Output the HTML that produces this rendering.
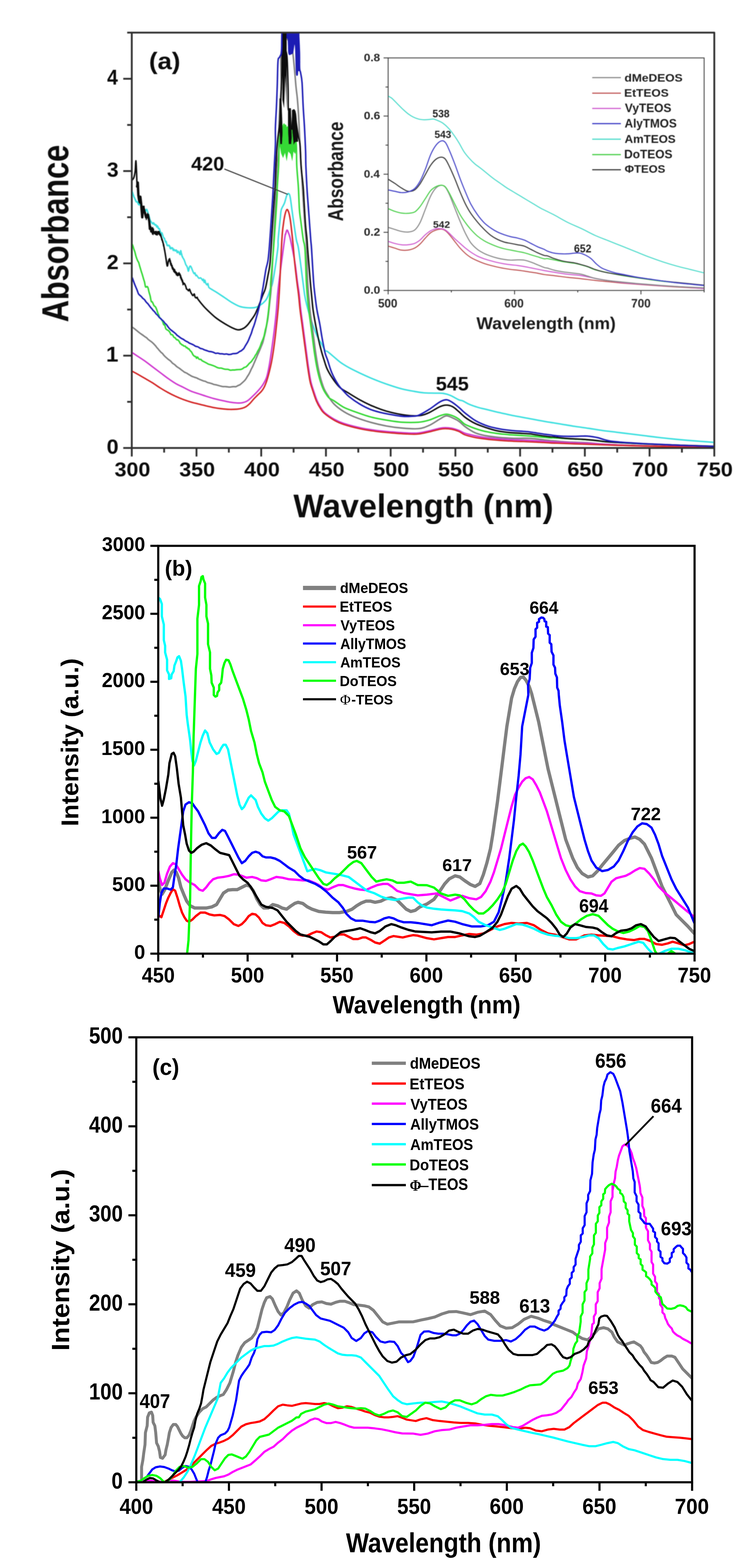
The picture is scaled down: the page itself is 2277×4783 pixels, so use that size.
<!DOCTYPE html>
<html><head><meta charset="utf-8"><style>html,body{margin:0;padding:0;background:#fff;}svg{display:block;}</style></head>
<body><svg width="2277" height="4783" viewBox="0 0 2277 4783">
<rect width="2277" height="4783" fill="#fff"/>
<clipPath id="cb"><rect x="483" y="1665" width="1637" height="1244"/></clipPath>
<g clip-path="url(#cb)">
<polyline points="483.5,2689.2 489.1,2713.7 494.7,2727.7 503.1,2713.7 513.7,2685.6 524.2,2661.1 531.2,2654.1 538.2,2661.1 545.2,2678.6 552.2,2706.7 560.7,2727.7 569.8,2748.8 580.3,2762.8 594.3,2769.8 611.9,2769.8 629.4,2769.8 646.9,2766.3 661.0,2759.3 671.5,2741.8 682.0,2724.2 696.0,2715.1 710.1,2713.7 724.1,2713.7 738.1,2706.7 752.2,2699.7 762.7,2703.2 773.2,2717.2 783.7,2741.8 794.2,2759.3 804.8,2769.8 818.8,2769.8 832.8,2759.3 846.9,2762.8 860.9,2769.8 874.9,2773.3 888.9,2762.8 899.5,2755.8 910.0,2752.3 924.0,2755.8 938.0,2766.3 952.1,2773.3 973.1,2780.3 994.2,2782.4 1015.2,2783.8 1036.2,2783.8 1057.3,2780.3 1074.8,2773.3 1088.9,2762.8 1102.9,2754.4 1116.9,2748.8 1130.9,2748.8 1145.0,2752.3 1162.5,2748.8 1176.5,2741.8 1194.1,2738.3 1211.6,2745.3 1225.6,2759.3 1239.7,2773.3 1253.7,2780.3 1267.7,2776.8 1281.8,2766.3 1303.1,2757.7 1324.6,2743.4 1342.5,2718.3 1356.9,2696.7 1371.3,2680.9 1389.2,2671.6 1403.6,2675.2 1417.9,2686.0 1435.9,2698.2 1450.2,2703.9 1464.6,2695.3 1475.3,2668.0 1486.1,2632.1 1496.9,2589.1 1504.0,2546.0 1511.2,2495.8 1518.4,2445.5 1525.6,2388.1 1532.8,2330.7 1539.9,2273.2 1547.1,2215.8 1554.3,2172.8 1561.5,2129.7 1570.1,2101.0 1579.4,2079.4 1588.7,2066.5 1597.4,2065.1 1606.0,2075.9 1615.3,2093.8 1622.5,2115.3 1629.7,2144.0 1636.8,2172.8 1644.0,2201.5 1651.2,2237.4 1658.4,2273.2 1665.5,2309.1 1672.7,2345.0 1683.5,2388.1 1694.3,2431.2 1705.0,2474.2 1715.8,2517.3 1726.6,2560.4 1737.3,2589.1 1748.1,2617.8 1762.4,2646.5 1776.8,2664.4 1794.7,2675.2 1809.1,2671.6 1823.5,2657.3 1837.8,2639.3 1855.8,2617.8 1873.7,2596.2 1888.1,2578.3 1906.0,2563.9 1923.9,2556.8 1938.3,2553.2 1952.7,2560.4 1967.0,2574.7 1977.8,2596.2 1988.5,2617.8 1999.3,2646.5 2010.1,2675.2 2020.8,2703.9 2035.2,2732.6 2049.6,2761.3 2063.9,2790.0 2081.9,2808.0 2099.8,2825.9 2119.2,2847.5" fill="none" stroke="#808080" stroke-width="10" stroke-linejoin="round" stroke-linecap="round" />
<polyline points="483.5,2790.9 492.6,2797.9 499.6,2776.8 506.6,2755.8 513.7,2738.3 520.7,2724.2 527.7,2712.3 534.7,2717.2 541.7,2738.3 548.7,2762.8 555.7,2783.8 562.8,2797.9 569.8,2808.4 576.8,2811.9 587.3,2804.9 597.8,2794.4 611.9,2783.8 625.9,2783.8 639.9,2789.5 653.9,2792.3 671.5,2790.9 685.5,2794.4 699.5,2804.9 713.6,2818.9 727.6,2824.5 738.1,2818.9 748.6,2808.4 759.2,2794.4 769.7,2787.4 780.2,2789.5 790.7,2799.3 801.3,2815.4 811.8,2822.4 825.8,2824.5 839.8,2818.9 853.9,2811.9 867.9,2815.4 881.9,2825.9 896.0,2840.0 910.0,2850.5 924.0,2854.0 938.0,2854.0 952.1,2847.0 966.1,2841.4 980.1,2843.5 994.2,2852.6 1008.2,2859.6 1022.2,2857.5 1036.2,2850.5 1050.3,2850.5 1064.3,2857.5 1078.3,2864.5 1092.4,2864.5 1106.4,2859.6 1116.9,2859.6 1130.9,2866.6 1145.0,2875.0 1159.0,2878.5 1173.0,2869.4 1187.1,2859.6 1201.1,2855.4 1215.1,2857.5 1229.2,2859.6 1246.7,2855.4 1260.7,2852.6 1274.7,2854.0 1303.1,2861.8 1324.6,2865.4 1346.1,2861.8 1367.7,2858.2 1389.2,2858.2 1410.7,2853.2 1432.3,2848.9 1453.8,2851.1 1475.3,2847.5 1496.9,2836.7 1518.4,2825.9 1539.9,2818.8 1561.5,2815.2 1583.0,2817.3 1608.1,2815.2 1629.7,2822.3 1651.2,2836.7 1672.7,2847.5 1694.3,2851.1 1715.8,2858.2 1737.3,2865.4 1758.9,2865.4 1784.0,2853.2 1805.5,2851.1 1827.0,2853.2 1848.6,2854.6 1870.1,2856.1 1891.6,2861.8 1913.2,2865.4 1934.7,2867.6 1952.7,2864.0 1967.0,2864.0 1985.0,2870.4 2002.9,2879.8 2020.8,2881.9 2038.8,2877.6 2053.1,2872.6 2071.1,2877.6 2089.0,2883.4 2103.4,2879.8 2119.2,2872.6" fill="none" stroke="#ff0000" stroke-width="7" stroke-linejoin="round" stroke-linecap="round" />
<polyline points="483.5,2657.6 487.7,2678.6 494.7,2699.7 501.7,2692.7 510.1,2664.6 518.6,2643.6 527.7,2633.0 536.8,2636.5 545.2,2650.6 555.7,2668.1 566.3,2682.1 580.3,2692.7 594.3,2699.7 608.4,2713.7 618.9,2717.2 629.4,2706.7 639.9,2692.7 650.4,2682.1 664.5,2677.2 682.0,2675.1 699.5,2671.6 713.6,2666.7 727.6,2668.1 741.6,2673.0 752.2,2677.2 769.7,2675.1 783.7,2678.6 797.7,2685.6 811.8,2687.0 825.8,2682.1 843.3,2675.1 860.9,2677.2 881.9,2682.1 903.0,2683.5 924.0,2685.6 941.5,2685.6 959.1,2692.7 973.1,2699.7 987.1,2710.2 1001.2,2713.7 1015.2,2706.7 1032.7,2699.7 1046.8,2699.7 1064.3,2705.3 1081.8,2710.2 1099.4,2713.7 1116.9,2715.1 1134.5,2706.7 1152.0,2699.7 1169.5,2696.2 1183.6,2696.2 1197.6,2705.3 1211.6,2717.2 1232.7,2724.2 1253.7,2727.7 1274.7,2731.2 1303.1,2729.0 1331.8,2725.4 1353.3,2736.2 1374.8,2747.0 1392.8,2739.8 1410.7,2732.6 1432.3,2739.8 1453.8,2743.4 1468.2,2736.2 1482.5,2718.3 1496.9,2689.6 1507.6,2660.8 1518.4,2625.0 1529.2,2589.1 1539.9,2546.0 1550.7,2502.9 1561.5,2459.9 1572.2,2424.0 1583.0,2402.4 1593.8,2384.5 1604.5,2373.7 1615.3,2370.1 1626.1,2377.3 1636.8,2395.3 1647.6,2416.8 1658.4,2445.5 1669.1,2474.2 1679.9,2510.1 1690.7,2546.0 1701.4,2581.9 1712.2,2617.8 1726.6,2653.7 1740.9,2682.4 1755.3,2703.9 1769.6,2718.3 1787.6,2724.0 1805.5,2725.4 1819.9,2731.2 1834.2,2732.6 1845.0,2725.4 1855.8,2707.5 1866.5,2689.6 1880.9,2678.8 1895.2,2675.2 1909.6,2671.6 1923.9,2664.4 1938.3,2655.1 1952.7,2647.9 1967.0,2650.1 1981.4,2664.4 1995.7,2682.4 2010.1,2703.9 2028.0,2721.9 2049.6,2739.8 2071.1,2757.7 2092.6,2775.7 2119.2,2797.2" fill="none" stroke="#ff00ff" stroke-width="7" stroke-linejoin="round" stroke-linecap="round" />
<polyline points="483.5,2797.9 487.7,2755.8 492.6,2724.2 499.6,2710.2 510.1,2710.2 520.7,2713.7 527.7,2706.7 532.6,2671.6 538.2,2636.5 543.8,2587.4 548.7,2552.4 553.6,2517.3 559.2,2475.2 566.3,2454.2 576.8,2447.1 587.3,2450.7 594.3,2461.2 604.8,2475.2 615.4,2496.2 625.9,2517.3 636.4,2541.8 646.9,2555.9 657.5,2555.9 668.0,2541.8 678.5,2531.3 686.9,2534.8 696.0,2552.4 706.6,2573.4 717.1,2594.5 727.6,2615.5 738.1,2633.0 748.6,2626.0 759.2,2612.0 769.7,2601.5 780.2,2598.0 790.7,2601.5 801.3,2612.0 811.8,2615.5 825.8,2615.5 839.8,2619.0 853.9,2626.0 867.9,2636.5 881.9,2647.1 899.5,2657.6 913.5,2671.6 927.5,2682.1 945.1,2689.2 962.6,2696.2 980.1,2706.7 997.7,2720.7 1015.2,2738.3 1032.7,2752.3 1046.8,2769.8 1057.3,2787.4 1071.3,2801.4 1085.4,2808.4 1106.4,2808.4 1127.4,2811.9 1145.0,2813.3 1159.0,2808.4 1173.0,2801.4 1187.1,2797.9 1201.1,2801.4 1215.1,2808.4 1232.7,2813.3 1253.7,2813.3 1274.7,2815.4 1317.4,2822.3 1339.0,2815.2 1367.7,2808.0 1389.2,2811.6 1410.7,2818.8 1439.4,2825.9 1468.2,2825.9 1489.7,2822.3 1507.6,2811.6 1522.0,2782.9 1532.8,2739.8 1543.5,2689.6 1554.3,2617.8 1561.5,2560.4 1568.6,2502.9 1575.8,2431.2 1583.0,2366.6 1588.7,2302.0 1593.8,2215.8 1612.6,2120.0 1611.8,2089.2 1616.7,2071.2 1618.3,2037.0 1623.2,2022.3 1623.2,1991.3 1628.1,1976.6 1628.9,1950.5 1634.6,1942.3 1634.6,1919.5 1639.5,1914.6 1639.5,1899.9 1645.2,1896.7 1645.2,1888.5 1652.6,1883.6 1657.5,1884.4 1661.5,1888.5 1662.3,1895.0 1667.2,1896.7 1667.2,1911.4 1672.1,1913.0 1673.0,1932.6 1677.8,1937.5 1677.8,1960.3 1682.7,1965.2 1683.6,1988.0 1689.3,1999.4 1689.3,2027.2 1694.2,2037.0 1695.0,2054.9 1699.9,2066.3 1700.7,2097.3 1704.8,2107.1 1705.6,2120.0 1708.6,2151.2 1715.8,2201.5 1723.0,2258.9 1730.1,2302.0 1737.3,2345.0 1744.5,2388.1 1751.7,2431.2 1762.4,2474.2 1773.2,2517.3 1784.0,2560.4 1794.7,2596.2 1805.5,2625.0 1819.9,2646.5 1837.8,2657.3 1855.8,2653.7 1873.7,2642.9 1888.1,2625.0 1902.4,2596.2 1916.8,2563.9 1931.1,2538.8 1945.5,2520.9 1959.8,2511.5 1974.2,2513.7 1988.5,2524.5 1999.3,2546.0 2010.1,2574.7 2020.8,2610.6 2035.2,2646.5 2049.6,2682.4 2063.9,2711.1 2081.9,2739.8 2099.8,2768.5 2119.2,2815.2" fill="none" stroke="#0000ff" stroke-width="7" stroke-linejoin="round" stroke-linecap="round" />
<polyline points="486.0,1825.0 488.5,1827.5 494.0,1842.5 494.0,1880.0 500.0,1905.0 500.0,1952.5 504.0,1970.0 504.0,1990.0 510.0,2012.5 510.0,2045.0 516.0,2057.5 516.0,2071.0 522.5,2069.0 524.0,2057.5 530.0,2047.5 532.5,2030.0 537.5,2017.5 541.7,2005.2 546.6,2001.7 552.2,2015.7 555.7,2040.3 560.7,2082.4 566.3,2124.5 569.8,2180.6 573.3,2208.6 580.3,2257.7 583.8,2292.8 587.3,2320.9 592.2,2334.9 597.8,2320.9 604.8,2292.8 611.9,2264.8 618.9,2243.7 625.9,2228.3 632.9,2236.7 639.9,2264.8 650.4,2285.8 661.0,2299.8 668.0,2296.3 675.0,2282.3 682.0,2271.8 689.0,2271.8 696.0,2285.8 703.1,2320.9 710.1,2356.0 717.1,2391.0 724.1,2426.1 731.1,2454.2 738.1,2468.2 745.1,2461.2 752.2,2447.1 759.2,2433.1 766.2,2426.1 773.2,2433.1 780.2,2440.1 787.2,2461.2 797.7,2482.2 808.3,2496.2 818.8,2503.3 829.3,2496.2 839.8,2485.7 850.4,2475.2 860.9,2471.7 874.9,2471.7 881.9,2482.2 888.9,2510.3 896.0,2545.4 906.5,2573.4 917.0,2601.5 927.5,2629.5 938.0,2657.6 948.6,2654.1 962.6,2650.6 976.6,2654.1 994.2,2661.1 1015.2,2664.6 1036.2,2668.1 1050.3,2671.6 1064.3,2675.1 1078.3,2685.6 1092.4,2696.2 1106.4,2706.7 1120.4,2717.2 1141.5,2724.2 1162.5,2734.7 1183.6,2741.8 1204.6,2745.3 1225.6,2741.8 1246.7,2738.3 1260.7,2738.3 1274.7,2752.3 1288.8,2762.8 1303.1,2768.5 1324.6,2772.1 1346.1,2774.3 1367.7,2775.7 1389.2,2777.1 1410.7,2779.3 1432.3,2786.5 1446.6,2797.2 1461.0,2811.6 1482.5,2822.3 1504.0,2829.5 1525.6,2836.7 1539.9,2833.1 1557.9,2825.9 1575.8,2818.8 1593.8,2820.2 1611.7,2825.9 1629.7,2833.1 1651.2,2843.9 1672.7,2851.1 1694.3,2854.6 1715.8,2856.1 1737.3,2861.8 1758.9,2861.8 1780.4,2858.2 1798.3,2853.2 1812.7,2853.2 1827.0,2861.8 1841.4,2879.8 1855.8,2894.1 1870.1,2896.3 1884.5,2892.0 1906.0,2886.9 1927.5,2879.8 1949.1,2872.6 1963.4,2876.2 1977.8,2894.1 1992.1,2908.5 2006.5,2912.1 2028.0,2901.3 2049.6,2894.1 2071.1,2894.1 2092.6,2899.2 2119.2,2908.5" fill="none" stroke="#00ffff" stroke-width="7" stroke-linejoin="round" stroke-linecap="round" />
<polyline points="571.2,2908.0 575.4,2868.0 580.3,2741.8 582.4,2601.5 585.2,2461.2 588.7,2356.0 590.8,2250.7 594.3,2145.5 597.8,2040.3 602.5,1995.0 602.5,1887.5 607.5,1845.0 607.5,1787.5 612.5,1772.5 615.0,1760.0 619.0,1757.5 621.0,1767.5 626.0,1780.0 626.0,1822.5 630.0,1845.0 630.0,1880.0 635.0,1902.5 635.0,1965.0 641.0,1990.0 641.0,2040.0 645.0,2060.0 646.0,2082.5 652.5,2097.5 652.5,2120.0 657.5,2125.0 662.5,2122.5 664.0,2112.5 669.0,2105.0 669.0,2090.0 675.0,2082.5 677.5,2065.0 680.0,2040.0 685.0,2022.5 690.0,2012.5 697.5,2014.0 703.1,2026.3 710.1,2047.3 720.6,2075.4 731.1,2103.4 741.6,2131.5 752.2,2166.6 759.2,2194.6 766.2,2229.7 776.7,2264.8 783.7,2299.8 790.7,2327.9 801.3,2356.0 808.3,2384.0 818.8,2412.1 829.3,2440.1 839.8,2461.2 853.9,2471.7 867.9,2475.2 881.9,2489.2 892.4,2517.3 903.0,2545.4 910.0,2566.4 917.0,2587.4 924.0,2601.5 931.0,2615.5 945.1,2636.5 959.1,2657.6 973.1,2678.6 987.1,2696.2 997.7,2699.7 1008.2,2692.7 1022.2,2678.6 1036.2,2668.1 1050.3,2654.1 1064.3,2640.0 1078.3,2629.5 1088.9,2626.0 1102.9,2633.0 1113.4,2647.1 1123.9,2661.1 1134.5,2675.1 1148.5,2689.2 1162.5,2685.6 1180.0,2682.1 1197.6,2685.6 1211.6,2692.7 1232.7,2692.7 1253.7,2689.2 1274.7,2699.7 1303.1,2700.3 1324.6,2707.5 1346.1,2725.4 1367.7,2732.6 1389.2,2729.0 1403.6,2731.2 1417.9,2743.4 1432.3,2761.3 1446.6,2775.7 1461.0,2786.5 1475.3,2786.5 1489.7,2775.7 1504.0,2761.3 1518.4,2743.4 1532.8,2721.9 1543.5,2696.7 1554.3,2660.8 1565.1,2625.0 1575.8,2596.2 1586.6,2578.3 1595.9,2573.3 1604.5,2581.9 1615.3,2599.8 1626.1,2625.0 1636.8,2653.7 1647.6,2682.4 1658.4,2711.1 1669.1,2736.2 1683.5,2761.3 1697.8,2790.0 1712.2,2811.6 1726.6,2822.3 1740.9,2825.9 1755.3,2818.8 1773.2,2804.4 1791.2,2793.6 1809.1,2788.6 1827.0,2793.6 1841.4,2808.0 1855.8,2822.3 1870.1,2833.1 1884.5,2840.3 1902.4,2846.0 1920.4,2841.7 1938.3,2833.1 1952.7,2824.5 1967.0,2827.4 1977.8,2840.3 1988.5,2869.0 1999.3,2901.3 2006.5,2912.1 2020.8,2912.1 2035.2,2910.6 2049.6,2901.3 2060.3,2908.5 2071.1,2913.5" fill="none" stroke="#00ff00" stroke-width="7" stroke-linejoin="round" stroke-linecap="round" />
<polyline points="483.5,2384.0 489.1,2433.1 494.7,2457.7 499.6,2440.1 506.6,2405.1 513.7,2363.0 517.2,2327.9 524.2,2299.8 529.8,2296.3 534.7,2306.9 539.6,2341.9 545.2,2391.0 552.2,2433.1 555.7,2475.2 559.2,2517.3 564.9,2545.4 569.8,2573.4 576.8,2594.5 583.8,2601.5 590.8,2598.0 601.3,2587.4 615.4,2576.9 629.4,2572.0 643.4,2579.0 657.5,2590.9 671.5,2601.5 685.5,2605.0 699.5,2608.5 710.1,2629.5 720.6,2650.6 731.1,2671.6 741.6,2682.1 755.7,2692.7 766.2,2706.7 776.7,2724.2 787.2,2741.8 797.7,2759.3 811.8,2766.3 832.8,2769.8 846.9,2776.8 860.9,2794.4 874.9,2811.9 888.9,2825.9 903.0,2840.0 917.0,2850.5 931.0,2854.0 945.1,2857.5 959.1,2864.5 973.1,2871.5 987.1,2880.7 997.7,2880.7 1008.2,2871.5 1022.2,2857.5 1039.8,2843.5 1057.3,2840.0 1078.3,2836.5 1099.4,2831.5 1113.4,2836.5 1130.9,2843.5 1145.0,2847.0 1159.0,2840.0 1176.5,2825.9 1194.1,2818.9 1208.1,2822.4 1225.6,2829.4 1246.7,2836.5 1267.7,2841.4 1317.4,2843.9 1346.1,2841.7 1374.8,2841.7 1403.6,2847.5 1432.3,2856.1 1450.2,2858.2 1464.6,2854.6 1482.5,2843.9 1504.0,2829.5 1518.4,2811.6 1529.2,2790.0 1539.9,2761.3 1550.7,2732.6 1561.5,2711.1 1575.8,2702.5 1586.6,2711.1 1597.4,2729.0 1611.7,2747.0 1626.1,2764.9 1640.4,2779.3 1654.8,2790.0 1669.1,2800.8 1683.5,2815.2 1697.8,2833.1 1708.6,2851.1 1719.4,2858.2 1730.1,2847.5 1740.9,2829.5 1755.3,2818.8 1769.6,2822.3 1787.6,2827.4 1809.1,2829.5 1823.5,2833.1 1837.8,2843.9 1852.2,2853.2 1866.5,2856.1 1880.9,2846.0 1895.2,2838.9 1913.2,2836.7 1927.5,2831.7 1941.9,2822.3 1956.2,2818.8 1970.6,2825.9 1981.4,2840.3 1995.7,2858.2 2010.1,2870.4 2028.0,2865.4 2046.0,2860.4 2060.3,2861.8 2074.7,2872.6 2089.0,2883.4 2103.4,2894.1 2119.2,2901.3" fill="none" stroke="#000000" stroke-width="7" stroke-linejoin="round" stroke-linecap="round" />
</g>
<path d="M483,1665 H2120 V2909 H483 Z" fill="none" stroke="#000" stroke-width="6.5" stroke-linejoin="miter"/>
<line x1="459.0" y1="2909.0" x2="483.0" y2="2909.0" stroke="#000" stroke-width="6.5" stroke-linecap="butt"/>
<line x1="471.0" y1="2805.3" x2="483.0" y2="2805.3" stroke="#000" stroke-width="6.5" stroke-linecap="butt"/>
<line x1="459.0" y1="2701.7" x2="483.0" y2="2701.7" stroke="#000" stroke-width="6.5" stroke-linecap="butt"/>
<line x1="471.0" y1="2598.0" x2="483.0" y2="2598.0" stroke="#000" stroke-width="6.5" stroke-linecap="butt"/>
<line x1="459.0" y1="2494.3" x2="483.0" y2="2494.3" stroke="#000" stroke-width="6.5" stroke-linecap="butt"/>
<line x1="471.0" y1="2390.7" x2="483.0" y2="2390.7" stroke="#000" stroke-width="6.5" stroke-linecap="butt"/>
<line x1="459.0" y1="2287.0" x2="483.0" y2="2287.0" stroke="#000" stroke-width="6.5" stroke-linecap="butt"/>
<line x1="471.0" y1="2183.3" x2="483.0" y2="2183.3" stroke="#000" stroke-width="6.5" stroke-linecap="butt"/>
<line x1="459.0" y1="2079.7" x2="483.0" y2="2079.7" stroke="#000" stroke-width="6.5" stroke-linecap="butt"/>
<line x1="471.0" y1="1976.0" x2="483.0" y2="1976.0" stroke="#000" stroke-width="6.5" stroke-linecap="butt"/>
<line x1="459.0" y1="1872.3" x2="483.0" y2="1872.3" stroke="#000" stroke-width="6.5" stroke-linecap="butt"/>
<line x1="471.0" y1="1768.7" x2="483.0" y2="1768.7" stroke="#000" stroke-width="6.5" stroke-linecap="butt"/>
<line x1="459.0" y1="1665.0" x2="483.0" y2="1665.0" stroke="#000" stroke-width="6.5" stroke-linecap="butt"/>
<line x1="483.0" y1="2909.0" x2="483.0" y2="2933.0" stroke="#000" stroke-width="6.5" stroke-linecap="butt"/>
<line x1="619.4" y1="2909.0" x2="619.4" y2="2921.0" stroke="#000" stroke-width="6.5" stroke-linecap="butt"/>
<line x1="755.8" y1="2909.0" x2="755.8" y2="2933.0" stroke="#000" stroke-width="6.5" stroke-linecap="butt"/>
<line x1="892.2" y1="2909.0" x2="892.2" y2="2921.0" stroke="#000" stroke-width="6.5" stroke-linecap="butt"/>
<line x1="1028.7" y1="2909.0" x2="1028.7" y2="2933.0" stroke="#000" stroke-width="6.5" stroke-linecap="butt"/>
<line x1="1165.1" y1="2909.0" x2="1165.1" y2="2921.0" stroke="#000" stroke-width="6.5" stroke-linecap="butt"/>
<line x1="1301.5" y1="2909.0" x2="1301.5" y2="2933.0" stroke="#000" stroke-width="6.5" stroke-linecap="butt"/>
<line x1="1437.9" y1="2909.0" x2="1437.9" y2="2921.0" stroke="#000" stroke-width="6.5" stroke-linecap="butt"/>
<line x1="1574.3" y1="2909.0" x2="1574.3" y2="2933.0" stroke="#000" stroke-width="6.5" stroke-linecap="butt"/>
<line x1="1710.8" y1="2909.0" x2="1710.8" y2="2921.0" stroke="#000" stroke-width="6.5" stroke-linecap="butt"/>
<line x1="1847.2" y1="2909.0" x2="1847.2" y2="2933.0" stroke="#000" stroke-width="6.5" stroke-linecap="butt"/>
<line x1="1983.6" y1="2909.0" x2="1983.6" y2="2921.0" stroke="#000" stroke-width="6.5" stroke-linecap="butt"/>
<line x1="2120.0" y1="2909.0" x2="2120.0" y2="2933.0" stroke="#000" stroke-width="6.5" stroke-linecap="butt"/>
<text transform="translate(409.4,2925.4) scale(0.981,1)" font-size="62.0" font-family="Liberation Sans, Arial, sans-serif" font-weight="bold" fill="#000" >0</text>
<text transform="translate(342.2,2718.0) scale(0.978,1)" font-size="62.0" font-family="Liberation Sans, Arial, sans-serif" font-weight="bold" fill="#000" >500</text>
<text transform="translate(308.9,2510.7) scale(0.973,1)" font-size="62.0" font-family="Liberation Sans, Arial, sans-serif" font-weight="bold" fill="#000" >1000</text>
<text transform="translate(308.9,2303.4) scale(0.973,1)" font-size="62.0" font-family="Liberation Sans, Arial, sans-serif" font-weight="bold" fill="#000" >1500</text>
<text transform="translate(310.7,2096.0) scale(0.960,1)" font-size="62.0" font-family="Liberation Sans, Arial, sans-serif" font-weight="bold" fill="#000" >2000</text>
<text transform="translate(310.7,1888.7) scale(0.960,1)" font-size="62.0" font-family="Liberation Sans, Arial, sans-serif" font-weight="bold" fill="#000" >2500</text>
<text transform="translate(311.3,1681.4) scale(0.956,1)" font-size="62.0" font-family="Liberation Sans, Arial, sans-serif" font-weight="bold" fill="#000" >3000</text>
<text transform="translate(432.9,2997.2) scale(0.932,1)" font-size="64.7" font-family="Liberation Sans, Arial, sans-serif" font-weight="bold" fill="#000" >450</text>
<text transform="translate(704.8,2997.2) scale(0.941,1)" font-size="64.7" font-family="Liberation Sans, Arial, sans-serif" font-weight="bold" fill="#000" >500</text>
<text transform="translate(977.6,2997.2) scale(0.941,1)" font-size="64.7" font-family="Liberation Sans, Arial, sans-serif" font-weight="bold" fill="#000" >550</text>
<text transform="translate(1250.2,2997.2) scale(0.944,1)" font-size="64.7" font-family="Liberation Sans, Arial, sans-serif" font-weight="bold" fill="#000" >600</text>
<text transform="translate(1523.0,2997.2) scale(0.944,1)" font-size="64.7" font-family="Liberation Sans, Arial, sans-serif" font-weight="bold" fill="#000" >650</text>
<text transform="translate(1795.5,2997.2) scale(0.947,1)" font-size="64.7" font-family="Liberation Sans, Arial, sans-serif" font-weight="bold" fill="#000" >700</text>
<text transform="translate(2068.3,2997.2) scale(0.947,1)" font-size="64.7" font-family="Liberation Sans, Arial, sans-serif" font-weight="bold" fill="#000" >750</text>
<text transform="translate(1015.2,3091.2) scale(0.944,1)" font-size="75.8" font-family="Liberation Sans, Arial, sans-serif" font-weight="bold" fill="#000" >Wavelength (nm)</text>
<text transform="translate(238.7,2520.5) rotate(-90) scale(1.032,1)" font-size="73.3" font-family="Liberation Sans, Arial, sans-serif" font-weight="bold" fill="#000">Intensity (a.u.)</text>
<text transform="translate(503.1,1755.6) scale(0.983,1)" font-size="66.9" font-family="Liberation Sans, Arial, sans-serif" font-weight="bold" fill="#000" >(b)</text>
<line x1="924.8" y1="1793.5" x2="1025.6" y2="1793.5" stroke="#808080" stroke-width="13" stroke-linecap="butt"/>
<text transform="translate(1037.8,1809.1) scale(0.973,1)" font-size="44.2" font-family="Liberation Sans, Arial, sans-serif" font-weight="bold" fill="#000" >dMeDEOS</text>
<line x1="924.8" y1="1850.3" x2="1025.6" y2="1850.3" stroke="#ff0000" stroke-width="6.6" stroke-linecap="butt"/>
<text transform="translate(1036.7,1866.2) scale(0.972,1)" font-size="44.3" font-family="Liberation Sans, Arial, sans-serif" font-weight="bold" fill="#000" >EtTEOS</text>
<line x1="924.8" y1="1907.3" x2="1025.6" y2="1907.3" stroke="#ff00ff" stroke-width="6.6" stroke-linecap="butt"/>
<text transform="translate(1039.3,1922.7) scale(0.953,1)" font-size="44.6" font-family="Liberation Sans, Arial, sans-serif" font-weight="bold" fill="#000" >VyTEOS</text>
<line x1="924.8" y1="1963.0" x2="1025.6" y2="1963.0" stroke="#0000ff" stroke-width="6.6" stroke-linecap="butt"/>
<text transform="translate(1038.4,1979.8) scale(0.937,1)" font-size="45.5" font-family="Liberation Sans, Arial, sans-serif" font-weight="bold" fill="#000" >AllyTMOS</text>
<line x1="924.8" y1="2020.0" x2="1025.6" y2="2020.0" stroke="#00ffff" stroke-width="6.6" stroke-linecap="butt"/>
<text transform="translate(1038.4,2035.5) scale(0.960,1)" font-size="44.3" font-family="Liberation Sans, Arial, sans-serif" font-weight="bold" fill="#000" >AmTEOS</text>
<line x1="924.8" y1="2076.5" x2="1025.6" y2="2076.5" stroke="#00ff00" stroke-width="6.6" stroke-linecap="butt"/>
<text transform="translate(1036.7,2092.6) scale(0.970,1)" font-size="44.3" font-family="Liberation Sans, Arial, sans-serif" font-weight="bold" fill="#000" >DoTEOS</text>
<line x1="924.8" y1="2133.0" x2="1025.6" y2="2133.0" stroke="#000000" stroke-width="6.6" stroke-linecap="butt"/>
<text x="1038" y="2148.8" font-size="44" font-family="Liberation Serif, serif" fill="#000">Φ</text>
<text transform="translate(1072.5,2148.8) scale(0.967,1)" font-size="43.0" font-family="Liberation Sans, Arial, sans-serif" font-weight="bold" fill="#000" >-TEOS</text>
<text transform="translate(1616.2,1872.0) scale(0.972,1)" font-size="54.3" font-family="Liberation Sans, Arial, sans-serif" font-weight="bold" fill="#000" >664</text>
<text transform="translate(1525.8,2059.0) scale(1.022,1)" font-size="52.9" font-family="Liberation Sans, Arial, sans-serif" font-weight="bold" fill="#000" >653</text>
<text transform="translate(1059.2,2619.0) scale(0.987,1)" font-size="55.7" font-family="Liberation Sans, Arial, sans-serif" font-weight="bold" fill="#000" >567</text>
<text transform="translate(1350.0,2657.0) scale(1.053,1)" font-size="51.4" font-family="Liberation Sans, Arial, sans-serif" font-weight="bold" fill="#000" >617</text>
<text transform="translate(1925.3,2501.5) scale(1.001,1)" font-size="55.0" font-family="Liberation Sans, Arial, sans-serif" font-weight="bold" fill="#000" >722</text>
<text transform="translate(1767.7,2783.0) scale(0.948,1)" font-size="56.6" font-family="Liberation Sans, Arial, sans-serif" font-weight="bold" fill="#000" >694</text>
<clipPath id="cc"><rect x="416" y="3164.2" width="1696.5" height="1357.3000000000002"/></clipPath>
<g clip-path="url(#cc)">
<polyline points="432.2,4518.9 432.2,4474.5 436.1,4453.6 438.7,4432.7 442.6,4406.6 443.9,4370.1 449.2,4349.2 450.5,4323.1 455.7,4310.0 462.2,4307.4 466.1,4317.9 467.4,4338.7 472.6,4349.2 475.3,4370.1 477.9,4401.4 483.1,4411.8 487.0,4427.5 489.6,4445.8 496.1,4448.4 504.0,4437.9 506.6,4422.3 510.5,4406.6 514.4,4385.7 517.0,4370.1 522.2,4354.4 528.8,4345.3 536.6,4345.3 541.8,4351.8 547.0,4362.2 552.3,4372.7 557.5,4380.5 564.0,4385.7 570.5,4385.7 577.1,4377.9 582.3,4364.9 587.5,4349.2 592.7,4333.5 597.9,4323.1 608.4,4307.4 618.8,4297.0 629.3,4291.8 639.7,4281.3 650.1,4270.9 660.6,4263.1 671.0,4257.8 681.5,4253.9 691.1,4239.2 701.6,4218.2 712.2,4183.1 719.2,4155.1 726.2,4134.0 736.7,4109.5 747.2,4095.4 757.7,4088.4 768.3,4081.4 778.8,4067.4 785.8,4049.8 792.8,4021.8 799.8,3993.7 806.9,3972.7 813.9,3958.6 824.4,3955.1 831.4,3962.2 840.5,3983.2 848.9,4000.7 857.4,4011.3 866.5,4004.2 875.6,3986.7 884.0,3965.7 894.5,3944.6 905.1,3937.6 913.5,3944.6 922.6,3965.7 933.1,3983.2 943.6,3990.2 954.2,3979.7 968.2,3972.7 982.2,3971.3 996.2,3976.2 1010.3,3978.3 1024.3,3972.7 1038.3,3969.2 1052.4,3969.2 1066.4,3974.1 1080.4,3979.7 1094.5,3981.1 1112.0,3983.2 1126.0,3986.7 1140.0,3997.2 1154.1,4014.8 1168.1,4032.3 1182.1,4039.3 1199.7,4035.8 1217.2,4032.3 1241.8,4032.3 1261.8,4031.9 1283.6,4026.9 1305.3,4022.5 1327.1,4017.4 1348.9,4008.0 1370.7,4001.4 1392.4,4000.7 1414.2,4005.1 1436.0,4010.2 1457.8,4002.9 1479.6,3999.3 1497.7,4010.2 1512.2,4028.3 1526.7,4044.3 1544.9,4051.5 1563.0,4050.1 1581.2,4039.2 1599.3,4024.7 1621.1,4015.2 1642.9,4021.0 1661.0,4028.3 1679.2,4034.1 1689.4,4040.0 1708.9,4047.8 1728.5,4055.7 1748.1,4063.5 1763.8,4075.2 1777.5,4083.1 1793.1,4087.0 1801.0,4081.1 1814.7,4067.4 1826.4,4053.7 1842.1,4049.8 1855.8,4053.7 1867.5,4063.5 1875.3,4079.2 1885.1,4092.9 1905.5,4103.1 1915.2,4099.2 1927.0,4095.3 1934.8,4093.3 1944.6,4099.2 1954.4,4105.1 1960.3,4112.9 1966.1,4124.7 1974.0,4134.4 1981.8,4146.2 1987.7,4156.0 1997.5,4157.9 2007.3,4156.0 2017.0,4150.1 2026.8,4142.3 2036.6,4136.4 2050.3,4136.4 2060.1,4140.3 2067.9,4152.1 2075.8,4163.8 2083.6,4175.6 2091.4,4183.4 2099.3,4191.2 2107.1,4199.1 2113.0,4204.9" fill="none" stroke="#808080" stroke-width="9" stroke-linejoin="round" stroke-linecap="round" />
<polyline points="504.0,4518.9 514.4,4513.6 527.5,4507.1 540.5,4500.6 553.6,4492.8 566.6,4484.9 579.7,4474.5 592.7,4461.4 605.8,4448.4 618.8,4435.3 631.9,4422.3 644.9,4410.5 658.0,4404.0 671.0,4400.1 684.1,4394.9 697.1,4388.3 710.2,4377.9 723.2,4364.9 736.7,4351.5 750.7,4344.5 764.8,4340.9 778.8,4338.8 792.8,4336.0 806.9,4329.0 820.9,4316.4 834.9,4302.4 848.9,4289.7 863.0,4284.8 877.0,4286.9 891.0,4288.3 905.1,4284.8 919.1,4281.3 933.1,4279.9 947.1,4281.3 961.2,4282.7 975.2,4282.7 989.2,4279.9 1003.3,4282.7 1017.3,4289.7 1031.3,4295.4 1045.4,4293.9 1059.4,4289.7 1073.4,4291.8 1087.4,4296.8 1101.5,4301.0 1115.5,4305.9 1129.5,4309.4 1143.6,4316.4 1157.6,4321.3 1171.6,4323.4 1185.6,4323.4 1199.7,4322.0 1213.7,4319.9 1227.7,4324.8 1241.8,4330.4 1269.0,4334.6 1283.6,4329.6 1301.7,4325.9 1319.9,4331.7 1341.6,4334.6 1363.4,4336.8 1385.2,4339.0 1407.0,4340.5 1428.7,4340.5 1450.5,4341.9 1472.3,4346.3 1494.1,4349.2 1515.9,4351.3 1537.6,4353.5 1559.4,4356.4 1581.2,4358.6 1603.0,4355.0 1617.5,4356.4 1635.6,4363.7 1653.8,4365.9 1671.9,4360.8 1690.1,4358.6 1708.2,4360.8 1722.7,4360.8 1737.3,4353.5 1751.8,4340.5 1766.3,4329.6 1780.8,4318.7 1795.3,4307.8 1809.9,4296.9 1824.4,4286.0 1838.9,4278.8 1849.8,4278.8 1860.7,4283.8 1875.2,4293.3 1889.7,4300.5 1904.2,4310.0 1918.8,4318.7 1933.3,4333.2 1947.8,4351.3 1962.3,4362.2 1980.5,4368.0 1998.6,4373.1 2016.8,4378.2 2034.9,4382.6 2053.1,4384.0 2074.8,4385.5 2093.0,4387.6 2111.1,4389.8" fill="none" stroke="#ff0000" stroke-width="6.5" stroke-linejoin="round" stroke-linecap="round" />
<polyline points="415.7,4518.9 436.1,4517.6 457.0,4516.2 475.3,4518.9 501.4,4520.2 527.5,4516.2 553.6,4520.2 579.7,4520.2 605.8,4518.9 631.9,4517.6 644.9,4512.3 658.0,4508.4 671.0,4505.8 684.1,4503.2 697.1,4498.0 710.2,4490.1 723.2,4483.6 764.8,4467.2 778.8,4455.3 792.8,4442.7 806.9,4428.6 820.9,4420.2 834.9,4413.2 848.9,4400.6 863.0,4390.0 877.0,4376.0 891.0,4364.1 905.1,4355.0 919.1,4348.0 933.1,4340.9 947.1,4331.8 961.2,4326.9 971.7,4329.0 982.2,4336.0 996.2,4340.9 1010.3,4340.9 1024.3,4337.4 1038.3,4340.9 1052.4,4345.9 1066.4,4351.5 1080.4,4355.0 1101.5,4355.0 1122.5,4355.0 1143.6,4357.1 1164.6,4359.9 1185.6,4364.1 1206.7,4369.0 1227.7,4372.5 1261.8,4373.1 1283.6,4376.8 1305.3,4373.1 1327.1,4365.9 1348.9,4362.2 1370.7,4360.8 1392.4,4355.0 1414.2,4351.3 1436.0,4347.7 1457.8,4347.7 1479.6,4346.3 1501.3,4344.1 1523.1,4344.1 1544.9,4347.7 1566.7,4353.5 1581.2,4355.0 1595.7,4349.2 1610.2,4340.5 1624.7,4331.7 1639.3,4324.5 1653.8,4318.7 1668.3,4317.2 1682.8,4315.0 1697.3,4310.0 1711.9,4300.5 1726.4,4282.4 1728.5,4280.0 1734.4,4271.0 1744.2,4261.2 1752.0,4247.5 1759.8,4235.8 1763.8,4220.1 1772.6,4206.4 1777.5,4186.8 1781.4,4165.3 1789.2,4143.8 1791.2,4122.2 1797.0,4104.6 1804.9,4069.4 1807.8,4040.0 1812.6,4035.6 1812.6,4016.0 1818.4,4006.2 1818.4,3978.8 1824.3,3969.0 1824.3,3941.6 1830.2,3929.8 1830.2,3914.2 1836.1,3900.5 1836.1,3871.1 1847.1,3811.4 1847.1,3791.9 1853.0,3776.2 1853.0,3744.9 1858.9,3729.2 1858.9,3711.6 1863.8,3697.9 1863.8,3664.6 1869.6,3650.9 1869.6,3615.7 1870.1,3630.0 1873.6,3608.9 1877.1,3594.9 1878.9,3573.9 1882.4,3559.8 1885.9,3538.8 1889.4,3524.8 1894.7,3510.7 1899.9,3496.7 1906.9,3491.4 1915.7,3495.0 1922.7,3505.5 1928.0,3517.7 1931.5,3531.8 1936.7,3545.8 1942.0,3563.3 1945.5,3580.9 1949.0,3598.4 1952.5,3616.0 1953.8,3625.5 1954.8,3639.2 1960.7,3652.9 1960.7,3678.3 1965.6,3690.1 1966.5,3709.6 1971.4,3715.5 1971.4,3742.9 1972.0,3740.0 1972.0,3745.9 1977.9,3755.7 1977.9,3783.1 1983.8,3794.8 1983.8,3810.5 1988.7,3818.3 1988.7,3849.6 1993.5,3857.5 1993.5,3884.9 1999.4,3894.7 1999.4,3908.4 2005.3,3916.2 2005.3,3941.6 2011.2,3947.5 2011.2,3959.3 2015.1,3965.1 2015.1,3980.0 2017.0,3981.7 2021.9,3989.6 2021.9,4003.3 2027.8,4009.2 2030.7,4020.9 2034.7,4028.7 2038.6,4038.5 2044.4,4046.4 2050.3,4052.2 2054.2,4062.0 2060.1,4067.9 2067.9,4073.8 2075.8,4077.7 2083.6,4083.5 2091.4,4087.5 2099.3,4091.4 2107.1,4096.3 2113.0,4099.2" fill="none" stroke="#ff00ff" stroke-width="6.5" stroke-linejoin="round" stroke-linecap="round" />
<polyline points="449.2,4503.2 457.0,4492.8 464.8,4482.3 475.3,4475.8 488.3,4473.2 501.4,4475.0 514.4,4479.7 524.9,4484.9 532.7,4487.5 545.7,4486.2 556.2,4477.1 566.6,4471.9 577.1,4474.5 584.9,4482.3 592.7,4495.4 597.9,4508.4 603.2,4521.5 626.7,4521.5 631.9,4505.8 637.1,4484.9 642.3,4469.3 647.5,4448.4 652.8,4427.5 658.0,4404.0 665.8,4385.7 673.6,4377.9 686.7,4372.7 694.5,4364.9 699.7,4354.4 705.0,4336.1 710.2,4317.9 715.4,4294.4 720.6,4270.9 729.7,4211.2 736.7,4197.1 743.7,4186.6 754.2,4172.6 761.3,4162.1 768.3,4141.0 775.3,4127.0 782.3,4106.0 785.8,4084.9 792.8,4070.9 799.8,4063.9 813.9,4062.5 827.9,4063.9 838.4,4056.9 848.9,4042.8 859.5,4021.8 870.0,4004.2 884.0,3990.2 898.0,3979.7 912.1,3972.7 922.6,3971.3 933.1,3976.2 943.6,3983.2 954.2,3997.2 964.7,4011.3 978.7,4021.8 992.7,4025.3 1006.8,4028.8 1020.8,4035.8 1034.8,4042.8 1048.9,4049.8 1062.9,4063.9 1073.4,4081.4 1087.4,4090.5 1101.5,4081.4 1112.0,4067.4 1122.5,4060.4 1136.5,4063.9 1147.1,4077.9 1161.1,4091.9 1175.1,4095.4 1189.2,4091.9 1203.2,4093.3 1213.7,4106.0 1224.2,4127.0 1234.7,4137.5 1245.3,4155.1 1252.3,4151.5 1261.8,4138.6 1272.7,4108.2 1283.6,4071.9 1294.4,4061.7 1309.0,4061.0 1323.5,4066.1 1338.0,4068.2 1352.5,4068.2 1367.0,4070.4 1381.6,4073.3 1392.4,4073.3 1403.3,4068.2 1414.2,4057.3 1425.1,4042.8 1436.0,4031.9 1446.9,4028.3 1457.8,4039.2 1468.7,4057.3 1479.6,4075.5 1490.4,4086.4 1508.6,4090.0 1526.7,4090.0 1544.9,4087.8 1559.4,4092.2 1573.9,4084.9 1588.5,4071.9 1603.0,4055.9 1617.5,4046.5 1632.0,4046.5 1646.5,4053.7 1661.0,4058.8 1671.9,4053.7 1682.8,4042.8 1693.7,4028.3 1700.0,4016.0 1704.9,4008.2 1704.9,3998.4 1710.8,3992.5 1711.7,3982.7 1716.6,3974.9 1722.5,3967.0 1722.5,3957.3 1728.4,3951.4 1729.4,3933.8 1733.3,3924.0 1739.2,3916.1 1739.2,3902.4 1745.0,3896.6 1745.0,3882.9 1750.9,3877.0 1750.9,3865.2 1756.8,3857.4 1756.8,3839.8 1766.9,3809.5 1766.9,3797.7 1772.7,3787.9 1772.7,3768.4 1778.6,3762.5 1778.6,3746.8 1784.5,3737.0 1784.5,3709.6 1790.3,3697.9 1790.3,3670.5 1795.2,3658.7 1795.2,3645.0 1801.1,3633.3 1802.1,3600.0 1803.5,3594.9 1807.0,3580.9 1808.7,3545.8 1812.2,3521.3 1815.7,3507.2 1817.5,3475.7 1821.0,3461.6 1822.8,3440.6 1826.3,3419.5 1829.8,3398.5 1833.3,3384.5 1835.0,3356.4 1838.5,3342.4 1842.0,3314.3 1845.6,3300.3 1850.8,3289.8 1854.3,3277.5 1863.1,3270.5 1871.9,3275.7 1877.1,3286.3 1882.4,3300.3 1887.6,3314.3 1892.9,3328.4 1896.4,3345.9 1899.9,3363.4 1903.4,3384.5 1906.9,3405.5 1910.4,3426.6 1913.9,3447.6 1916.8,3468.6 1919.2,3489.7 1921.0,3510.7 1924.5,3531.8 1928.0,3552.8 1931.5,3573.9 1933.2,3594.9 1935.2,3600.0 1937.2,3605.9 1937.2,3637.2 1943.0,3648.9 1943.0,3664.6 1948.9,3674.4 1948.9,3695.9 1954.8,3701.8 1954.8,3715.5 1961.6,3723.3 1967.5,3731.2 1975.3,3733.1 1983.2,3733.1 1993.5,3747.8 1993.5,3755.7 1999.4,3759.6 1999.4,3773.3 2005.3,3779.2 2005.3,3787.0 2010.2,3792.9 2010.2,3812.4 2016.1,3818.3 2016.1,3834.0 2021.9,3837.9 2021.9,3845.7 2027.8,3853.5 2036.6,3854.5 2044.4,3849.6 2044.4,3839.8 2050.3,3834.0 2050.3,3822.2 2056.2,3818.3 2056.2,3810.5 2062.1,3804.6 2067.9,3799.7 2075.8,3799.7 2079.7,3804.6 2084.6,3809.5 2084.6,3822.2 2090.5,3828.1 2095.3,3835.9 2095.3,3851.6 2101.2,3857.5 2101.2,3869.2 2107.1,3873.1 2112.0,3881.0" fill="none" stroke="#0000ff" stroke-width="6.5" stroke-linejoin="round" stroke-linecap="round" />
<polyline points="548.3,4521.5 561.4,4505.8 571.8,4490.1 579.7,4474.5 587.5,4456.2 595.3,4437.9 603.2,4417.1 611.0,4396.2 618.8,4375.3 626.7,4354.4 634.5,4336.1 642.3,4317.9 650.1,4299.6 658.0,4281.3 664.5,4265.7 673.6,4218.2 684.1,4204.2 694.6,4186.6 705.1,4172.6 715.7,4162.1 726.2,4151.5 736.7,4141.0 750.7,4130.5 764.8,4120.0 778.8,4113.0 792.8,4109.5 806.9,4106.0 820.9,4106.0 834.9,4104.6 848.9,4098.9 863.0,4091.9 877.0,4086.3 891.0,4081.4 905.1,4079.3 919.1,4081.4 933.1,4083.5 947.1,4084.9 961.2,4086.3 975.2,4091.9 989.2,4102.4 1003.3,4111.6 1017.3,4120.0 1031.3,4128.4 1045.4,4132.6 1059.4,4134.0 1073.4,4134.0 1087.4,4135.4 1101.5,4141.0 1115.5,4155.1 1129.5,4169.1 1143.6,4183.1 1157.6,4197.1 1171.6,4218.2 1185.6,4239.2 1199.7,4258.9 1213.7,4270.8 1227.7,4279.9 1241.8,4283.4 1261.8,4280.9 1283.6,4278.8 1305.3,4278.8 1327.1,4276.6 1348.9,4275.1 1367.0,4278.8 1385.2,4283.8 1403.3,4289.6 1421.5,4296.9 1439.6,4304.2 1457.8,4311.4 1479.6,4315.0 1501.3,4315.0 1519.5,4320.1 1534.0,4333.2 1544.9,4344.1 1559.4,4355.0 1581.2,4360.8 1603.0,4365.9 1624.7,4370.9 1646.5,4375.3 1668.3,4380.4 1690.1,4385.5 1711.9,4391.3 1733.6,4397.1 1755.4,4402.2 1777.2,4407.2 1799.0,4411.6 1817.1,4411.6 1835.3,4407.2 1853.4,4402.2 1871.6,4398.5 1886.1,4402.2 1900.6,4411.6 1918.8,4420.3 1936.9,4423.9 1958.7,4431.2 1980.5,4438.5 2002.2,4445.7 2024.0,4450.8 2045.8,4453.0 2067.6,4453.0 2089.3,4456.6 2111.1,4462.4" fill="none" stroke="#00ffff" stroke-width="6.5" stroke-linejoin="round" stroke-linecap="round" />
<polyline points="417.8,4520.2 430.9,4516.2 441.3,4508.4 451.8,4501.9 464.8,4499.3 477.9,4501.9 488.3,4508.4 498.7,4518.9 506.6,4520.2 517.0,4513.6 527.5,4500.6 537.9,4484.9 548.3,4474.5 561.4,4471.9 574.4,4477.1 587.5,4474.5 600.6,4464.0 613.6,4451.0 624.0,4451.0 634.5,4458.8 644.9,4474.5 655.4,4484.9 665.8,4479.7 676.2,4464.0 686.7,4448.4 697.1,4437.9 707.6,4436.6 718.0,4440.6 740.2,4449.7 750.7,4442.7 761.3,4428.6 771.8,4411.1 782.3,4393.6 792.8,4383.0 806.9,4379.5 820.9,4376.0 834.9,4365.5 848.9,4355.0 863.0,4348.0 877.0,4340.9 891.0,4333.9 905.1,4323.4 912.1,4323.4 919.1,4312.9 933.1,4305.9 947.1,4302.4 961.2,4298.9 975.2,4291.8 989.2,4284.8 1003.3,4281.3 1017.3,4284.8 1031.3,4289.7 1045.4,4291.8 1059.4,4293.9 1073.4,4295.4 1087.4,4296.8 1101.5,4295.4 1115.5,4296.8 1129.5,4303.8 1143.6,4312.9 1157.6,4317.8 1171.6,4312.9 1185.6,4305.9 1199.7,4302.4 1213.7,4308.0 1227.7,4319.9 1241.8,4322.0 1269.0,4302.7 1283.6,4288.2 1298.1,4278.8 1312.6,4280.9 1327.1,4289.6 1345.3,4298.4 1359.8,4293.3 1374.3,4278.8 1388.8,4271.5 1403.3,4271.5 1421.5,4278.8 1439.6,4283.8 1454.2,4278.8 1468.7,4267.9 1483.2,4259.2 1497.7,4254.8 1515.9,4257.0 1534.0,4257.0 1552.2,4251.9 1570.3,4246.1 1588.5,4238.8 1603.0,4231.6 1617.5,4225.8 1635.6,4224.3 1650.2,4222.9 1660.0,4216.2 1667.8,4210.3 1677.6,4200.5 1687.4,4190.7 1699.2,4184.9 1718.7,4181.0 1732.4,4173.1 1738.3,4165.3 1742.2,4149.6 1749.1,4130.1 1750.1,4114.4 1755.9,4098.7 1761.8,4090.9 1761.8,4075.2 1767.7,4065.5 1772.4,4031.6 1772.4,4016.0 1778.3,4004.2 1778.3,3978.8 1784.2,3967.0 1784.2,3941.6 1790.1,3933.8 1790.1,3914.2 1795.9,3900.5 1795.9,3873.1 1801.1,3840.0 1801.1,3833.0 1808.0,3823.2 1808.0,3805.6 1812.9,3795.8 1812.9,3768.4 1818.7,3760.5 1818.7,3733.1 1824.6,3725.3 1824.6,3707.7 1829.5,3699.8 1829.5,3682.2 1835.4,3676.4 1835.4,3664.6 1841.2,3656.8 1841.2,3643.1 1846.1,3639.2 1847.1,3627.4 1852.0,3621.5 1857.9,3615.7 1866.7,3610.8 1877.5,3615.7 1881.4,3619.6 1885.3,3625.5 1893.1,3631.3 1893.1,3639.2 1899.0,3643.1 1902.9,3650.9 1903.9,3664.6 1909.8,3670.5 1909.8,3684.2 1915.6,3692.0 1915.6,3701.8 1920.5,3706.7 1920.5,3725.3 1926.0,3751.7 1931.9,3761.5 1931.9,3771.3 1937.8,3779.2 1937.8,3796.8 1943.6,3802.6 1943.6,3822.2 1949.5,3828.1 1949.5,3837.9 1955.4,3841.8 1955.4,3855.5 1961.2,3861.4 1961.2,3873.1 1967.1,3877.0 1972.0,3881.0 1972.0,3892.7 1977.9,3896.6 1983.8,3902.5 1988.7,3910.3 1988.7,3918.2 1995.5,3924.0 2000.4,3929.9 2000.4,3939.7 2006.3,3947.5 2012.1,3953.4 2017.0,3957.3 2021.9,3977.8 2028.8,3983.7 2036.6,3991.5 2048.4,3992.5 2060.1,3989.6 2067.9,3983.7 2075.8,3981.7 2085.6,3983.7 2093.4,3987.6 2099.3,3995.5 2107.1,3999.4 2113.0,4001.3" fill="none" stroke="#00ff00" stroke-width="6.5" stroke-linejoin="round" stroke-linecap="round" />
<polyline points="436.1,4521.5 446.5,4513.6 457.0,4508.4 467.4,4509.7 477.9,4516.2 488.3,4521.5 504.0,4521.5 514.4,4513.6 524.9,4503.2 535.3,4492.8 545.7,4482.3 553.6,4471.9 560.1,4458.8 566.6,4443.2 571.8,4427.5 577.1,4409.2 582.3,4388.3 587.5,4370.1 592.7,4354.4 596.6,4333.5 601.9,4312.6 608.4,4297.0 613.6,4281.3 617.5,4260.4 621.0,4239.2 628.0,4211.2 635.0,4183.1 642.0,4155.1 649.0,4134.0 656.0,4113.0 663.1,4091.9 673.6,4070.9 684.1,4053.3 694.6,4035.8 703.0,4014.8 712.2,3993.7 719.2,3972.7 726.2,3951.6 733.2,3930.6 743.7,3916.6 754.2,3909.5 764.8,3915.2 775.3,3927.1 785.8,3937.6 796.3,3937.6 806.9,3923.6 817.4,3902.5 827.9,3881.5 838.4,3868.9 848.9,3860.4 863.0,3859.0 877.0,3856.9 891.0,3849.9 901.5,3840.8 912.1,3831.0 920.5,3831.0 927.5,3842.9 936.6,3856.9 947.1,3873.1 957.7,3892.0 968.2,3906.0 978.7,3910.9 989.2,3908.1 999.8,3902.5 1010.3,3901.1 1020.8,3908.1 1031.3,3916.6 1041.8,3930.6 1052.4,3943.2 1062.9,3955.1 1073.4,3965.7 1083.9,3976.2 1094.5,3993.7 1105.0,4014.8 1115.5,4039.3 1126.0,4060.4 1136.5,4081.4 1147.1,4102.4 1157.6,4121.4 1168.1,4137.5 1182.1,4151.5 1196.2,4156.5 1210.2,4153.7 1224.2,4141.0 1238.3,4134.0 1252.3,4130.5 1269.0,4116.9 1283.6,4100.9 1298.1,4087.8 1312.6,4082.7 1327.1,4082.7 1341.6,4079.1 1356.2,4070.4 1370.7,4058.8 1385.2,4055.9 1399.7,4063.1 1414.2,4068.2 1428.7,4068.2 1443.3,4058.8 1457.8,4053.7 1472.3,4055.9 1486.8,4061.0 1505.0,4066.1 1519.5,4070.4 1530.4,4082.7 1541.3,4100.9 1552.2,4116.9 1566.7,4129.9 1581.2,4133.6 1595.7,4133.6 1610.2,4133.6 1624.7,4133.6 1639.3,4129.9 1653.8,4116.9 1660.0,4112.4 1669.8,4102.6 1683.5,4100.7 1693.3,4106.6 1703.1,4118.3 1710.9,4130.1 1718.7,4139.8 1730.5,4143.8 1742.2,4139.8 1754.0,4130.1 1769.6,4124.2 1781.4,4116.4 1793.1,4104.6 1797.0,4092.9 1808.8,4079.2 1814.7,4065.5 1820.5,4051.7 1826.4,4040.0 1829.2,4021.9 1835.1,4016.0 1844.9,4013.0 1852.7,4014.0 1858.6,4021.9 1864.4,4029.7 1870.3,4039.5 1876.2,4049.3 1880.0,4058.1 1885.9,4071.8 1891.7,4081.6 1899.6,4091.4 1905.5,4101.2 1913.3,4112.9 1921.1,4124.7 1930.9,4134.4 1936.8,4144.2 1944.6,4154.0 1952.4,4163.8 1960.3,4171.6 1966.1,4181.4 1974.0,4191.2 1981.8,4203.0 1985.7,4210.0 1995.0,4215.6 2009.5,4231.6 2024.0,4233.0 2038.5,4220.7 2053.1,4211.2 2067.6,4215.6 2082.1,4230.1 2096.6,4253.3 2111.1,4271.5" fill="none" stroke="#000000" stroke-width="6.5" stroke-linejoin="round" stroke-linecap="round" />
</g>
<path d="M416,3164.2 H2112.5 V4521.5 H416 Z" fill="none" stroke="#000" stroke-width="6.5"/>
<line x1="392.0" y1="4521.5" x2="416.0" y2="4521.5" stroke="#000" stroke-width="6.5" stroke-linecap="butt"/>
<line x1="404.0" y1="4385.8" x2="416.0" y2="4385.8" stroke="#000" stroke-width="6.5" stroke-linecap="butt"/>
<line x1="392.0" y1="4250.0" x2="416.0" y2="4250.0" stroke="#000" stroke-width="6.5" stroke-linecap="butt"/>
<line x1="404.0" y1="4114.3" x2="416.0" y2="4114.3" stroke="#000" stroke-width="6.5" stroke-linecap="butt"/>
<line x1="392.0" y1="3978.6" x2="416.0" y2="3978.6" stroke="#000" stroke-width="6.5" stroke-linecap="butt"/>
<line x1="404.0" y1="3842.8" x2="416.0" y2="3842.8" stroke="#000" stroke-width="6.5" stroke-linecap="butt"/>
<line x1="392.0" y1="3707.1" x2="416.0" y2="3707.1" stroke="#000" stroke-width="6.5" stroke-linecap="butt"/>
<line x1="404.0" y1="3571.4" x2="416.0" y2="3571.4" stroke="#000" stroke-width="6.5" stroke-linecap="butt"/>
<line x1="392.0" y1="3435.7" x2="416.0" y2="3435.7" stroke="#000" stroke-width="6.5" stroke-linecap="butt"/>
<line x1="404.0" y1="3299.9" x2="416.0" y2="3299.9" stroke="#000" stroke-width="6.5" stroke-linecap="butt"/>
<line x1="392.0" y1="3164.2" x2="416.0" y2="3164.2" stroke="#000" stroke-width="6.5" stroke-linecap="butt"/>
<line x1="416.0" y1="4521.5" x2="416.0" y2="4547.5" stroke="#000" stroke-width="6.5" stroke-linecap="butt"/>
<line x1="557.4" y1="4521.5" x2="557.4" y2="4533.5" stroke="#000" stroke-width="6.5" stroke-linecap="butt"/>
<line x1="698.8" y1="4521.5" x2="698.8" y2="4547.5" stroke="#000" stroke-width="6.5" stroke-linecap="butt"/>
<line x1="840.1" y1="4521.5" x2="840.1" y2="4533.5" stroke="#000" stroke-width="6.5" stroke-linecap="butt"/>
<line x1="981.5" y1="4521.5" x2="981.5" y2="4547.5" stroke="#000" stroke-width="6.5" stroke-linecap="butt"/>
<line x1="1122.9" y1="4521.5" x2="1122.9" y2="4533.5" stroke="#000" stroke-width="6.5" stroke-linecap="butt"/>
<line x1="1264.2" y1="4521.5" x2="1264.2" y2="4547.5" stroke="#000" stroke-width="6.5" stroke-linecap="butt"/>
<line x1="1405.6" y1="4521.5" x2="1405.6" y2="4533.5" stroke="#000" stroke-width="6.5" stroke-linecap="butt"/>
<line x1="1547.0" y1="4521.5" x2="1547.0" y2="4547.5" stroke="#000" stroke-width="6.5" stroke-linecap="butt"/>
<line x1="1688.4" y1="4521.5" x2="1688.4" y2="4533.5" stroke="#000" stroke-width="6.5" stroke-linecap="butt"/>
<line x1="1829.8" y1="4521.5" x2="1829.8" y2="4547.5" stroke="#000" stroke-width="6.5" stroke-linecap="butt"/>
<line x1="1971.1" y1="4521.5" x2="1971.1" y2="4533.5" stroke="#000" stroke-width="6.5" stroke-linecap="butt"/>
<line x1="2112.5" y1="4521.5" x2="2112.5" y2="4547.5" stroke="#000" stroke-width="6.5" stroke-linecap="butt"/>
<text transform="translate(340.3,4540.6) scale(0.880,1)" font-size="70.3" font-family="Liberation Sans, Arial, sans-serif" font-weight="bold" fill="#000" >0</text>
<text transform="translate(271.7,4269.1) scale(0.880,1)" font-size="70.3" font-family="Liberation Sans, Arial, sans-serif" font-weight="bold" fill="#000" >100</text>
<text transform="translate(271.7,3997.7) scale(0.880,1)" font-size="70.3" font-family="Liberation Sans, Arial, sans-serif" font-weight="bold" fill="#000" >200</text>
<text transform="translate(271.7,3726.2) scale(0.880,1)" font-size="70.3" font-family="Liberation Sans, Arial, sans-serif" font-weight="bold" fill="#000" >300</text>
<text transform="translate(271.7,3454.8) scale(0.880,1)" font-size="70.3" font-family="Liberation Sans, Arial, sans-serif" font-weight="bold" fill="#000" >400</text>
<text transform="translate(271.7,3183.3) scale(0.880,1)" font-size="70.3" font-family="Liberation Sans, Arial, sans-serif" font-weight="bold" fill="#000" >500</text>
<text transform="translate(364.9,4617.5) scale(0.910,1)" font-size="67.6" font-family="Liberation Sans, Arial, sans-serif" font-weight="bold" fill="#000" >400</text>
<text transform="translate(647.6,4617.5) scale(0.910,1)" font-size="67.6" font-family="Liberation Sans, Arial, sans-serif" font-weight="bold" fill="#000" >450</text>
<text transform="translate(929.4,4617.5) scale(0.919,1)" font-size="67.6" font-family="Liberation Sans, Arial, sans-serif" font-weight="bold" fill="#000" >500</text>
<text transform="translate(1212.2,4617.5) scale(0.919,1)" font-size="67.6" font-family="Liberation Sans, Arial, sans-serif" font-weight="bold" fill="#000" >550</text>
<text transform="translate(1494.6,4617.5) scale(0.922,1)" font-size="67.6" font-family="Liberation Sans, Arial, sans-serif" font-weight="bold" fill="#000" >600</text>
<text transform="translate(1777.4,4617.5) scale(0.922,1)" font-size="67.6" font-family="Liberation Sans, Arial, sans-serif" font-weight="bold" fill="#000" >650</text>
<text transform="translate(2059.8,4617.5) scale(0.925,1)" font-size="67.6" font-family="Liberation Sans, Arial, sans-serif" font-weight="bold" fill="#000" >700</text>
<text transform="translate(1056.0,4735.0) scale(0.897,1)" font-size="82.8" font-family="Liberation Sans, Arial, sans-serif" font-weight="bold" fill="#000" >Wavelength (nm)</text>
<text transform="translate(211.0,4120.6) rotate(-90) scale(1.069,1)" font-size="76.5" font-family="Liberation Sans, Arial, sans-serif" font-weight="bold" fill="#000">Intensity (a.u.)</text>
<text transform="translate(465.0,3278.9) scale(0.958,1)" font-size="70.3" font-family="Liberation Sans, Arial, sans-serif" font-weight="bold" fill="#000" >(c)</text>
<line x1="1134.8" y1="3243.3" x2="1238.8" y2="3243.3" stroke="#808080" stroke-width="10" stroke-linecap="butt"/>
<text transform="translate(1251.2,3260.4) scale(0.920,1)" font-size="48.4" font-family="Liberation Sans, Arial, sans-serif" font-weight="bold" fill="#000" >dMeDEOS</text>
<line x1="1134.8" y1="3305.3" x2="1238.8" y2="3305.3" stroke="#ff0000" stroke-width="7" stroke-linecap="butt"/>
<text transform="translate(1250.1,3322.5) scale(0.927,1)" font-size="48.6" font-family="Liberation Sans, Arial, sans-serif" font-weight="bold" fill="#000" >EtTEOS</text>
<line x1="1134.8" y1="3366.5" x2="1238.8" y2="3366.5" stroke="#ff00ff" stroke-width="7" stroke-linecap="butt"/>
<text transform="translate(1252.8,3384.5) scale(0.917,1)" font-size="48.6" font-family="Liberation Sans, Arial, sans-serif" font-weight="bold" fill="#000" >VyTEOS</text>
<line x1="1134.8" y1="3428.6" x2="1238.8" y2="3428.6" stroke="#0000ff" stroke-width="7" stroke-linecap="butt"/>
<text transform="translate(1251.9,3445.6) scale(0.926,1)" font-size="48.0" font-family="Liberation Sans, Arial, sans-serif" font-weight="bold" fill="#000" >AllyTMOS</text>
<line x1="1134.8" y1="3490.3" x2="1238.8" y2="3490.3" stroke="#00ffff" stroke-width="7" stroke-linecap="butt"/>
<text transform="translate(1251.9,3508.0) scale(0.905,1)" font-size="49.0" font-family="Liberation Sans, Arial, sans-serif" font-weight="bold" fill="#000" >AmTEOS</text>
<line x1="1134.8" y1="3552.0" x2="1238.8" y2="3552.0" stroke="#00ff00" stroke-width="7" stroke-linecap="butt"/>
<text transform="translate(1250.1,3569.6) scale(0.934,1)" font-size="47.8" font-family="Liberation Sans, Arial, sans-serif" font-weight="bold" fill="#000" >DoTEOS</text>
<line x1="1134.8" y1="3615.0" x2="1238.8" y2="3615.0" stroke="#000000" stroke-width="7" stroke-linecap="butt"/>
<text transform="translate(1250.5,3632.3) scale(0.865,1)" font-size="49.3" font-family="Liberation Serif, serif" font-weight="bold" fill="#000" >Φ</text>
<rect x="1275.6" y="3617.4" width="32.4" height="3.8" fill="#000"/>
<text transform="translate(1307.6,3630.0) scale(0.902,1)" font-size="49.3" font-family="Liberation Sans, Arial, sans-serif" font-weight="bold" fill="#000" >TEOS</text>
<text transform="translate(1816.5,3256.9) scale(0.918,1)" font-size="62.3" font-family="Liberation Sans, Arial, sans-serif" font-weight="bold" fill="#000" >656</text>
<text transform="translate(1986.3,3394.4) scale(0.938,1)" font-size="60.3" font-family="Liberation Sans, Arial, sans-serif" font-weight="bold" fill="#000" >664</text>
<text transform="translate(2017.0,3767.8) scale(0.968,1)" font-size="58.3" font-family="Liberation Sans, Arial, sans-serif" font-weight="bold" fill="#000" >693</text>
<text transform="translate(426.2,4295.1) scale(0.921,1)" font-size="60.7" font-family="Liberation Sans, Arial, sans-serif" font-weight="bold" fill="#000" >407</text>
<text transform="translate(686.8,3894.9) scale(0.943,1)" font-size="59.9" font-family="Liberation Sans, Arial, sans-serif" font-weight="bold" fill="#000" >459</text>
<text transform="translate(867.7,3819.4) scale(0.925,1)" font-size="62.0" font-family="Liberation Sans, Arial, sans-serif" font-weight="bold" fill="#000" >490</text>
<text transform="translate(977.0,3890.0) scale(0.964,1)" font-size="59.3" font-family="Liberation Sans, Arial, sans-serif" font-weight="bold" fill="#000" >507</text>
<text transform="translate(1432.9,3976.9) scale(0.995,1)" font-size="56.2" font-family="Liberation Sans, Arial, sans-serif" font-weight="bold" fill="#000" >588</text>
<text transform="translate(1585.0,4004.4) scale(0.954,1)" font-size="59.2" font-family="Liberation Sans, Arial, sans-serif" font-weight="bold" fill="#000" >613</text>
<text transform="translate(1795.6,4252.4) scale(0.985,1)" font-size="56.3" font-family="Liberation Sans, Arial, sans-serif" font-weight="bold" fill="#000" >653</text>
<line x1="1994.6" y1="3404.8" x2="1908.7" y2="3493.2" stroke="#000" stroke-width="5.5" stroke-linecap="butt"/>
<filter id="blur" x="0" y="0" width="1" height="1"><feGaussianBlur stdDeviation="0.9"/></filter>
<g filter="url(#blur)">
<clipPath id="ca"><rect x="402.2" y="98.5" width="1777.9999999999998" height="1268.0"/></clipPath>
<g clip-path="url(#ca)">
<path d="M403.6,584.4 C404.0,585.7 405.2,589.5 406.0,592.1 C406.7,594.6 407.5,597.7 408.3,599.7 C409.1,601.7 409.8,602.2 410.7,604.0 C411.5,605.8 412.4,608.6 413.3,610.6 C414.1,612.6 415.0,615.0 415.9,615.8 C416.8,616.7 417.6,615.0 418.5,615.8 C419.4,616.6 420.2,619.0 421.1,620.5 C422.0,622.0 422.8,624.3 423.7,624.8 C424.6,625.3 425.5,624.1 426.3,623.6 C427.2,623.1 428.1,621.2 428.9,622.0 C429.8,622.8 430.7,626.9 431.5,628.5 C432.4,630.1 433.3,629.8 434.2,631.4 C435.0,633.0 435.9,636.9 436.8,638.0 C437.6,639.1 438.5,637.8 439.4,638.0 C440.2,638.2 441.1,638.2 442.0,639.3 C442.9,640.3 443.7,644.3 444.6,644.2 C445.5,644.0 446.3,638.6 447.2,638.4 C448.1,638.2 448.9,640.9 449.8,643.2 C450.7,645.5 451.6,649.4 452.4,652.0 C453.3,654.7 454.2,656.1 455.0,659.2 C455.9,662.3 456.8,668.0 457.6,670.6 C458.5,673.2 459.4,673.5 460.3,674.9 C461.1,676.3 462.0,677.8 462.9,679.1 C463.7,680.3 464.6,682.3 465.5,682.3 C466.3,682.4 467.2,679.2 468.1,679.3 C469.0,679.3 469.8,681.2 470.7,682.4 C471.6,683.6 472.4,685.7 473.3,686.2 C474.2,686.8 475.0,684.5 475.9,685.6 C476.8,686.6 477.7,691.8 478.5,692.6 C479.4,693.4 480.3,689.3 481.1,690.2 C482.0,691.0 482.9,696.5 483.7,697.8 C484.6,699.0 485.5,696.2 486.4,697.5 C487.2,698.9 488.1,703.3 489.0,705.8 C489.8,708.3 490.7,711.7 491.6,712.4 C492.5,713.2 493.3,709.5 494.2,710.4 C495.1,711.3 495.9,715.1 496.8,717.6 C497.7,720.0 498.5,723.5 499.4,725.2 C500.3,726.8 501.2,725.3 502.0,727.3 C502.9,729.3 503.8,735.6 504.6,737.1 C505.5,738.7 506.4,734.7 507.2,736.6 C508.1,738.4 509.0,746.3 509.9,748.3 C510.7,750.4 511.6,749.0 512.5,748.9 C513.3,748.8 514.0,747.8 514.8,747.8 C515.6,747.9 516.4,747.8 517.2,749.5 C517.9,751.1 518.7,756.4 519.5,757.9 C520.3,759.4 521.1,758.7 521.9,758.5 C522.6,758.3 523.4,757.1 524.2,756.7 C525.0,756.4 525.8,755.2 526.6,756.4 C527.3,757.6 528.1,763.1 528.9,764.0 C529.7,764.9 530.5,761.7 531.3,761.8 C532.0,761.9 532.8,764.1 533.6,764.6 C534.4,765.1 535.2,764.8 536.0,764.6 C536.8,764.3 537.6,761.9 538.4,762.9 C539.2,763.9 540.0,769.4 540.8,770.5 C541.7,771.5 542.5,769.5 543.3,769.2 C544.1,768.9 544.7,767.3 545.7,768.5 C546.8,769.7 548.7,777.0 549.7,776.3 C550.6,775.7 550.9,764.5 551.6,764.6 C552.4,764.6 553.4,773.4 554.2,776.6 C555.1,779.8 556.0,781.9 556.8,783.8 C557.7,785.7 558.6,786.5 559.4,788.1 C560.3,789.6 561.2,790.8 562.1,792.8 C562.9,794.7 563.8,797.4 564.7,799.9 C565.5,802.3 566.4,805.7 567.3,807.6 C568.1,809.5 569.0,809.5 569.9,811.1 C570.8,812.8 571.6,814.8 572.5,817.5 C573.4,820.2 574.2,827.5 575.1,827.2 C576.0,826.9 577.1,818.1 578.0,815.5 C579.0,812.8 580.0,811.5 581.0,811.5 C582.0,811.6 582.9,813.7 583.9,815.6 C584.9,817.6 585.9,820.9 586.9,823.3 C587.8,825.7 588.8,828.1 589.8,830.1 C590.8,832.0 591.8,834.6 592.7,835.0 C593.6,835.4 594.4,831.6 595.2,832.5 C596.0,833.4 596.8,839.4 597.6,840.6 C598.4,841.7 599.3,839.1 600.1,839.4 C600.9,839.8 601.3,841.3 602.5,842.9 C603.7,844.4 605.6,848.1 607.2,848.9 C608.8,849.6 610.4,846.9 611.9,847.5 C613.5,848.0 615.4,850.8 616.5,852.2 C617.6,853.6 618.0,856.0 618.7,855.9 C619.5,855.8 620.2,850.8 621.0,851.7 C621.7,852.7 622.5,861.2 623.2,861.7 C624.0,862.2 624.7,854.6 625.5,854.8 C626.2,855.0 626.6,860.6 627.7,863.0 C628.8,865.4 631.1,868.7 632.3,869.1 C633.4,869.4 633.8,864.0 634.6,865.1 C635.4,866.2 635.8,873.1 637.0,875.6 C638.1,878.0 637.6,877.3 641.7,880.0 C645.7,882.7 654.1,887.2 661.2,891.7 C668.4,896.3 676.9,902.2 684.7,907.4 C692.6,912.6 700.4,918.5 708.2,923.1 C716.1,927.6 723.9,932.2 731.7,934.8 C739.6,937.4 747.4,938.2 755.2,938.7 C763.1,939.3 772.2,939.3 778.7,937.9 C785.2,936.6 789.2,934.4 794.4,930.9 C799.6,927.4 806.1,921.8 810.0,917.2 C814.0,912.6 815.3,909.7 817.9,903.5 C820.5,897.3 823.2,887.6 825.7,880.0 C828.2,872.4 829.3,878.0 833.0,858.0 C836.7,838.0 845.0,781.2 847.7,760.0 C850.4,738.8 847.7,746.3 849.0,730.5 C850.3,714.7 853.9,680.4 855.5,665.3 C857.1,650.2 856.4,647.6 858.5,640.0 C860.6,632.4 865.3,627.2 868.3,619.4 C871.3,611.6 873.8,597.1 876.5,593.3 C879.2,589.5 882.2,588.8 884.6,596.6 C887.0,604.4 889.4,628.5 891.1,640.0 C892.8,651.5 892.4,650.2 894.6,665.3 C896.8,680.4 901.6,714.7 904.4,730.5 C907.2,746.3 908.1,738.8 911.4,760.0 C914.7,781.2 921.3,834.7 924.4,858.0 C927.5,881.3 928.1,888.2 930.0,900.0 C931.9,911.8 933.3,918.2 936.0,929.0 C938.7,939.8 942.3,953.2 946.0,965.0 C949.7,976.8 954.0,989.2 958.0,1000.0 C962.0,1010.8 966.3,1022.2 970.0,1030.0 C973.7,1037.8 976.7,1040.3 980.4,1046.8 C984.1,1053.3 988.8,1064.5 992.1,1068.8 C995.4,1073.1 995.4,1069.3 1000.0,1072.6 C1004.6,1076.0 1013.1,1083.5 1019.6,1088.9 C1026.1,1094.4 1031.5,1099.8 1039.2,1105.3 C1046.8,1110.7 1055.5,1116.1 1065.3,1121.6 C1075.0,1127.0 1087.0,1132.7 1097.9,1137.9 C1108.8,1143.0 1119.6,1147.9 1130.5,1152.6 C1141.4,1157.2 1152.3,1161.5 1163.1,1165.6 C1174.0,1169.7 1184.9,1173.5 1195.8,1177.0 C1206.6,1180.6 1217.5,1184.1 1228.4,1186.8 C1239.3,1189.5 1250.1,1191.4 1261.0,1193.3 C1271.9,1195.2 1282.8,1197.3 1293.6,1198.2 C1304.5,1199.2 1316.5,1198.9 1326.3,1199.2 C1336.1,1199.5 1344.2,1198.7 1352.4,1199.9 C1360.5,1201.1 1367.3,1203.1 1375.2,1206.4 C1383.1,1209.7 1393.7,1216.7 1400.0,1219.4 C1406.3,1222.2 1408.1,1221.0 1413.1,1223.1 C1418.0,1225.3 1424.2,1229.6 1429.8,1232.2 C1435.4,1234.8 1440.9,1236.7 1446.5,1238.7 C1452.1,1240.6 1457.6,1242.4 1463.2,1243.9 C1468.8,1245.4 1473.6,1246.2 1479.9,1247.8 C1486.2,1249.3 1493.8,1251.2 1500.8,1252.9 C1507.8,1254.7 1514.7,1256.5 1521.7,1258.1 C1528.6,1259.7 1535.6,1261.1 1542.6,1262.6 C1549.5,1264.2 1556.5,1265.8 1563.5,1267.2 C1570.4,1268.6 1577.4,1269.8 1584.3,1271.1 C1591.3,1272.4 1598.3,1273.7 1605.2,1275.0 C1612.2,1276.2 1619.1,1277.5 1626.1,1278.8 C1633.1,1280.1 1640.0,1281.4 1647.0,1282.7 C1654.0,1284.0 1660.9,1285.4 1667.9,1286.6 C1674.8,1287.8 1681.5,1288.7 1688.8,1289.8 C1696.0,1291.0 1700.6,1291.6 1711.5,1293.4 C1722.4,1295.2 1739.9,1298.4 1754.1,1300.6 C1768.3,1302.8 1782.5,1304.5 1796.7,1306.6 C1810.9,1308.7 1825.1,1311.2 1839.3,1313.2 C1853.5,1315.2 1867.7,1316.7 1881.9,1318.5 C1896.1,1320.2 1910.3,1322.0 1924.5,1323.7 C1938.7,1325.5 1952.9,1327.3 1967.1,1329.0 C1981.3,1330.8 1995.5,1332.7 2009.7,1334.3 C2023.9,1336.0 2038.1,1337.5 2052.4,1338.9 C2066.6,1340.4 2080.8,1341.7 2095.0,1342.9 C2109.2,1344.1 2123.4,1345.1 2137.6,1346.2 C2151.8,1347.3 2173.1,1348.9 2180.2,1349.5" fill="none" stroke="#3fe0e0" stroke-width="4.6" stroke-linejoin="round" stroke-linecap="round" />
<path d="M403.6,997.5 C404.2,998.0 406.1,999.6 407.3,1000.5 C408.6,1001.5 409.8,1002.2 411.1,1003.2 C412.3,1004.2 413.5,1005.4 414.8,1006.4 C416.0,1007.4 416.8,1007.8 418.5,1009.2 C420.2,1010.6 423.5,1013.4 425.2,1014.7 C426.9,1016.1 427.4,1016.5 428.6,1017.3 C429.7,1018.1 430.2,1018.3 431.9,1019.5 C433.6,1020.7 437.0,1023.1 438.6,1024.3 C440.3,1025.6 440.9,1026.0 442.0,1026.8 C443.1,1027.6 444.2,1028.3 445.3,1029.1 C446.5,1029.8 447.6,1030.5 448.7,1031.5 C449.8,1032.5 450.9,1034.1 452.1,1035.1 C453.2,1036.1 453.7,1036.5 455.4,1037.7 C457.1,1038.9 459.9,1040.7 462.1,1042.5 C464.4,1044.3 467.2,1046.9 468.8,1048.5 C470.5,1050.1 471.1,1050.9 472.2,1052.1 C473.3,1053.3 474.4,1054.5 475.5,1055.8 C476.7,1057.2 477.8,1059.0 478.9,1060.4 C480.0,1061.7 481.1,1062.6 482.3,1064.0 C483.4,1065.3 484.5,1066.9 485.6,1068.2 C486.7,1069.6 487.9,1070.7 489.0,1071.9 C490.1,1073.1 491.2,1074.5 492.3,1075.5 C493.4,1076.5 494.6,1076.8 495.7,1078.0 C496.8,1079.1 497.9,1081.0 499.0,1082.4 C500.2,1083.7 501.3,1084.9 502.4,1086.1 C503.5,1087.2 504.6,1088.4 505.8,1089.4 C506.9,1090.4 508.0,1091.2 509.1,1092.2 C510.2,1093.2 510.8,1094.0 512.5,1095.3 C514.1,1096.7 517.5,1098.8 519.2,1100.1 C520.9,1101.4 521.4,1102.0 522.5,1103.2 C523.6,1104.3 524.2,1105.8 525.9,1107.2 C527.6,1108.7 530.9,1110.6 532.6,1111.9 C534.3,1113.2 534.8,1113.9 536.0,1114.9 C537.1,1116.0 537.6,1116.8 539.3,1118.1 C541.0,1119.4 544.3,1121.4 546.0,1122.6 C547.7,1123.7 547.7,1123.6 549.4,1124.9 C551.1,1126.2 554.4,1128.9 556.1,1130.2 C557.8,1131.4 558.3,1131.7 559.4,1132.5 C560.6,1133.4 561.1,1134.1 562.8,1135.1 C564.5,1136.0 567.8,1137.1 569.5,1138.0 C571.2,1138.8 571.2,1139.2 572.9,1140.2 C574.6,1141.3 577.3,1143.0 579.6,1144.3 C581.8,1145.6 584.1,1147.1 586.3,1148.2 C588.5,1149.2 590.8,1149.7 593.0,1150.5 C595.2,1151.3 597.5,1151.8 599.7,1152.7 C602.0,1153.6 604.2,1155.0 606.4,1156.0 C608.7,1157.1 610.9,1157.8 613.1,1158.8 C615.4,1159.7 617.6,1160.9 619.9,1161.6 C622.1,1162.4 624.3,1162.4 626.6,1163.2 C628.8,1164.1 631.0,1165.8 633.3,1166.7 C635.5,1167.5 637.8,1167.7 640.0,1168.3 C642.2,1168.9 644.5,1169.5 646.7,1170.2 C648.9,1171.0 651.2,1172.3 653.4,1172.9 C655.7,1173.5 657.9,1173.4 660.1,1173.9 C662.4,1174.4 664.6,1175.3 666.8,1175.9 C669.1,1176.6 671.3,1177.3 673.6,1177.8 C675.8,1178.4 678.0,1179.0 680.3,1179.2 C682.5,1179.5 684.7,1179.2 687.0,1179.3 C689.2,1179.5 691.5,1179.7 693.7,1179.9 C695.9,1180.2 698.2,1180.7 700.4,1180.7 C702.6,1180.7 704.8,1180.3 706.9,1180.0 C709.1,1179.8 711.3,1179.3 713.5,1179.2 C715.6,1179.2 717.8,1180.0 720.0,1179.5 C722.1,1179.0 724.2,1177.2 726.2,1176.2 C728.3,1175.2 730.3,1175.0 732.5,1173.5 C734.7,1172.1 737.7,1169.0 739.6,1167.4 C741.4,1165.8 742.2,1165.1 743.5,1163.9 C744.8,1162.7 746.1,1161.5 747.4,1160.0 C748.7,1158.4 750.0,1156.7 751.3,1154.7 C752.6,1152.8 753.9,1150.3 755.2,1148.2 C756.5,1146.2 757.8,1144.6 759.1,1142.3 C760.4,1140.1 761.7,1137.4 763.1,1134.7 C764.4,1131.9 765.7,1128.6 767.0,1126.0 C768.3,1123.3 769.6,1121.6 770.9,1118.8 C772.2,1116.1 773.5,1112.7 774.8,1109.7 C776.1,1106.6 777.4,1103.5 778.7,1100.5 C780.0,1097.5 781.3,1094.5 782.6,1091.4 C783.9,1088.4 785.2,1085.2 786.5,1082.1 C787.8,1079.1 789.2,1076.1 790.5,1073.0 C791.8,1070.0 793.1,1067.1 794.4,1064.0 C795.7,1060.9 797.0,1057.6 798.3,1054.4 C799.6,1051.1 800.9,1048.7 802.2,1044.4 C803.5,1040.2 804.8,1034.1 806.1,1028.8 C807.4,1023.6 808.7,1019.3 810.0,1013.1 C811.3,1006.9 812.6,998.8 814.0,991.6 C815.3,984.4 816.2,982.1 817.9,970.1 C819.5,958.0 822.1,934.2 823.7,919.2 C825.4,904.1 826.3,899.9 827.7,880.0 C829.0,860.1 830.6,826.7 832.0,800.0 C833.4,773.3 834.7,746.7 836.0,720.0 C837.3,693.3 838.8,666.7 840.0,640.0 C841.2,613.3 842.0,583.3 843.0,560.0 C844.0,536.7 844.8,516.7 846.0,500.0 C847.2,483.3 849.4,481.0 850.4,460.0 C851.4,439.0 851.2,399.2 852.0,374.0 C852.8,348.8 854.2,328.0 855.3,309.0 C856.4,290.0 858.2,281.8 858.5,260.0 C858.8,238.2 856.7,198.0 857.3,178.0 C857.9,158.0 860.2,148.8 862.0,140.0 C863.8,131.2 865.7,128.3 868.0,125.0 C870.3,121.7 873.3,119.2 876.0,120.0 C878.7,120.8 881.7,125.0 884.0,130.0 C886.3,135.0 888.3,144.5 890.0,150.0 C891.7,155.5 892.4,151.0 894.0,163.0 C895.6,175.0 898.2,205.0 899.8,222.0 C901.4,239.0 902.2,252.0 903.5,265.0 C904.8,278.0 906.3,287.2 907.5,300.0 C908.7,312.8 909.6,323.8 910.7,341.6 C911.8,359.4 913.0,387.1 914.0,406.8 C915.0,426.5 915.4,432.8 916.9,460.0 C918.4,487.2 920.8,533.3 923.0,570.0 C925.2,606.7 927.8,648.3 930.0,680.0 C932.2,711.7 934.5,730.3 936.0,760.0 C937.5,789.7 937.3,827.0 939.0,858.0 C940.7,889.0 944.0,924.0 946.2,946.0 C948.4,968.1 950.1,975.4 952.1,990.1 C954.1,1004.8 956.0,1019.5 958.0,1034.1 C959.9,1048.8 961.6,1063.5 963.8,1078.2 C966.0,1092.9 968.5,1108.8 971.2,1122.2 C973.9,1135.7 976.8,1147.9 980.0,1158.9 C983.2,1169.9 986.4,1179.7 990.3,1188.3 C994.2,1196.9 1001.9,1207.3 1003.5,1210.3 C1005.1,1213.3 997.3,1202.7 1000.0,1206.4 C1002.7,1210.1 1011.4,1224.3 1019.6,1232.5 C1027.7,1240.7 1038.6,1248.8 1048.9,1255.3 C1059.3,1261.9 1068.0,1266.2 1081.6,1271.6 C1095.2,1277.1 1114.2,1283.3 1130.5,1288.0 C1146.8,1292.6 1163.1,1296.4 1179.4,1299.4 C1195.8,1302.4 1212.1,1304.5 1228.4,1305.9 C1244.7,1307.3 1263.7,1308.9 1277.3,1307.5 C1290.9,1306.2 1299.1,1302.6 1310.0,1297.7 C1320.8,1292.9 1333.9,1283.1 1342.6,1278.2 C1351.3,1273.3 1355.6,1268.9 1362.2,1268.4 C1368.7,1267.8 1375.4,1272.2 1381.7,1274.9 C1388.0,1277.6 1394.1,1280.6 1400.0,1284.7 C1405.9,1288.8 1411.6,1295.1 1417.2,1299.6 C1422.9,1304.0 1428.4,1307.8 1434.0,1311.2 C1439.5,1314.7 1444.4,1317.7 1450.7,1320.3 C1456.9,1322.9 1464.6,1325.0 1471.6,1326.8 C1478.5,1328.5 1485.5,1329.6 1492.4,1330.6 C1499.4,1331.7 1506.4,1332.5 1513.3,1333.2 C1520.3,1334.0 1527.2,1334.6 1534.2,1335.2 C1541.2,1335.7 1548.1,1336.1 1555.1,1336.5 C1562.1,1336.8 1569.0,1337.1 1576.0,1337.1 C1582.9,1337.2 1589.9,1336.9 1596.9,1336.9 C1603.8,1336.9 1610.8,1336.8 1617.8,1337.1 C1624.7,1337.5 1631.7,1338.3 1638.6,1339.1 C1645.6,1339.8 1652.6,1340.8 1659.5,1341.7 C1666.5,1342.5 1675.3,1343.7 1680.4,1344.2 C1685.5,1344.8 1685.0,1344.4 1690.2,1344.9 C1695.4,1345.3 1704.4,1346.3 1711.5,1346.9 C1718.6,1347.4 1725.7,1347.8 1732.8,1348.2 C1739.9,1348.6 1747.0,1348.8 1754.1,1349.1 C1761.2,1349.4 1768.3,1349.6 1775.4,1349.9 C1782.5,1350.2 1789.6,1350.3 1796.7,1350.8 C1803.8,1351.3 1810.9,1352.1 1818.0,1352.8 C1825.1,1353.5 1828.7,1354.1 1839.3,1354.8 C1850.0,1355.5 1867.7,1356.4 1881.9,1357.0 C1896.1,1357.6 1910.3,1357.9 1924.5,1358.3 C1938.7,1358.8 1952.9,1359.3 1967.1,1359.7 C1981.3,1360.1 1995.5,1360.4 2009.7,1360.7 C2023.9,1361.1 2038.1,1361.5 2052.4,1361.8 C2066.6,1362.1 2080.8,1362.4 2095.0,1362.7 C2109.2,1363.0 2123.4,1363.1 2137.6,1363.4 C2151.8,1363.6 2173.1,1363.9 2180.2,1364.0" fill="none" stroke="#808080" stroke-width="4.6" stroke-linejoin="round" stroke-linecap="round" />
<path d="M403.6,745.0 C404.0,746.1 405.3,749.1 406.2,751.8 C407.0,754.4 407.8,757.9 408.7,760.6 C409.6,763.4 410.7,765.1 411.6,768.3 C412.6,771.6 413.6,776.8 414.6,780.2 C415.6,783.7 416.5,786.3 417.5,789.0 C418.5,791.6 419.5,793.8 420.5,795.9 C421.4,797.9 422.4,798.5 423.4,801.1 C424.4,803.8 425.3,808.1 426.3,811.5 C427.3,814.9 428.3,818.3 429.3,821.5 C430.2,824.8 431.2,828.0 432.2,831.1 C433.2,834.2 434.2,836.8 435.1,840.1 C436.1,843.4 437.1,847.4 438.1,850.7 C439.0,854.0 440.0,855.9 441.0,859.8 C442.0,863.7 443.0,871.6 443.9,874.2 C444.9,876.8 445.7,875.6 446.6,875.5 C447.4,875.5 448.3,873.6 449.2,874.0 C450.0,874.5 450.8,875.2 451.8,878.1 C452.8,881.0 453.9,887.3 455.0,891.4 C456.1,895.5 457.2,898.3 458.3,902.9 C459.4,907.5 460.5,916.2 461.6,919.2 C462.6,922.1 463.5,919.4 464.5,920.6 C465.5,921.8 466.5,924.5 467.4,926.5 C468.4,928.6 469.4,931.5 470.4,932.9 C471.4,934.2 472.3,933.7 473.3,934.8 C474.3,935.9 475.3,937.4 476.2,939.4 C477.2,941.4 478.2,944.1 479.2,946.9 C480.2,949.6 481.1,953.6 482.1,956.1 C483.1,958.7 484.1,959.9 485.1,962.2 C486.0,964.5 487.0,968.1 488.0,969.8 C489.0,971.5 489.9,971.4 490.9,972.5 C491.9,973.6 492.9,974.7 493.9,976.3 C494.8,977.8 495.8,979.4 496.8,981.8 C497.8,984.2 498.8,989.0 499.7,990.5 C500.7,992.0 501.7,989.0 502.7,990.8 C503.7,992.7 504.6,999.2 505.6,1001.6 C506.6,1004.0 507.6,1004.4 508.5,1005.3 C509.5,1006.1 510.3,1006.1 511.2,1006.6 C512.0,1007.2 512.9,1007.7 513.8,1008.4 C514.6,1009.1 515.5,1009.8 516.4,1010.8 C517.2,1011.9 518.1,1013.0 519.0,1014.6 C519.9,1016.2 520.7,1019.2 521.6,1020.2 C522.5,1021.3 523.3,1020.7 524.2,1021.0 C525.1,1021.2 525.9,1020.7 526.8,1021.7 C527.7,1022.6 528.6,1025.3 529.4,1026.7 C530.3,1028.0 531.2,1029.0 532.0,1029.6 C532.9,1030.3 533.8,1029.9 534.7,1030.6 C535.5,1031.4 536.4,1033.3 537.3,1034.3 C538.1,1035.3 539.0,1036.2 539.9,1036.6 C540.7,1037.0 541.6,1036.2 542.5,1036.6 C543.4,1037.0 544.2,1038.2 545.1,1039.2 C546.0,1040.2 546.8,1041.2 547.7,1042.7 C548.6,1044.2 549.4,1047.0 550.3,1048.1 C551.2,1049.2 552.1,1048.5 552.9,1049.2 C553.8,1049.9 554.7,1051.7 555.5,1052.3 C556.4,1052.8 557.3,1051.9 558.1,1052.5 C559.0,1053.0 559.9,1054.8 560.8,1055.4 C561.6,1056.0 562.5,1055.8 563.4,1055.9 C564.2,1056.1 565.1,1055.5 566.0,1056.3 C566.8,1057.1 567.7,1059.9 568.6,1060.6 C569.5,1061.2 570.3,1059.5 571.2,1060.1 C572.1,1060.7 573.2,1063.5 574.1,1064.2 C575.1,1065.0 576.1,1063.6 577.1,1064.4 C578.0,1065.3 579.0,1068.1 580.0,1069.4 C581.0,1070.6 582.0,1070.8 582.9,1071.9 C583.9,1072.9 584.9,1074.2 585.9,1075.9 C586.9,1077.6 587.8,1080.4 588.8,1081.9 C589.8,1083.4 590.8,1084.0 591.8,1085.0 C592.7,1085.9 593.8,1087.1 594.7,1087.5 C595.6,1087.9 596.4,1086.6 597.3,1087.6 C598.2,1088.5 599.0,1092.7 599.9,1093.0 C600.8,1093.3 601.6,1089.3 602.5,1089.1 C603.4,1089.0 604.3,1091.2 605.1,1092.2 C606.0,1093.3 606.3,1094.9 607.7,1095.6 C609.2,1096.3 612.1,1095.9 613.6,1096.7 C615.1,1097.4 615.2,1099.2 616.9,1100.4 C618.5,1101.5 621.2,1102.6 623.4,1103.7 C625.6,1104.8 627.8,1105.9 629.9,1107.1 C632.1,1108.3 634.3,1110.0 636.5,1110.9 C638.6,1111.8 640.8,1112.0 643.0,1112.7 C645.2,1113.3 647.3,1114.1 649.5,1114.9 C651.7,1115.7 653.9,1116.5 656.0,1117.5 C658.2,1118.5 660.4,1120.1 662.6,1120.9 C664.7,1121.8 666.9,1122.4 669.1,1122.8 C671.3,1123.1 673.6,1122.5 675.8,1122.9 C678.0,1123.4 680.3,1124.6 682.5,1125.2 C684.7,1125.8 687.0,1126.2 689.2,1126.5 C691.5,1126.7 693.7,1126.3 695.9,1126.7 C698.2,1127.1 700.4,1128.8 702.6,1129.1 C704.9,1129.5 707.1,1128.7 709.4,1128.6 C711.6,1128.5 713.9,1128.8 716.1,1128.6 C718.3,1128.5 720.4,1127.8 722.6,1127.6 C724.8,1127.4 726.9,1127.5 729.1,1127.3 C731.3,1127.2 733.5,1127.3 735.6,1126.7 C737.8,1126.1 740.3,1124.7 741.9,1123.7 C743.5,1122.8 743.5,1121.9 745.0,1121.1 C746.6,1120.3 749.2,1120.3 751.3,1118.8 C753.4,1117.4 756.0,1114.2 757.6,1112.5 C759.1,1110.9 759.1,1110.3 760.7,1108.7 C762.3,1107.1 765.4,1104.9 767.0,1103.2 C768.5,1101.5 769.1,1100.1 770.1,1098.7 C771.1,1097.2 772.2,1095.8 773.2,1094.3 C774.3,1092.9 775.3,1091.7 776.4,1090.0 C777.4,1088.3 778.5,1085.6 779.5,1083.9 C780.5,1082.2 781.5,1081.7 782.6,1079.7 C783.8,1077.6 785.2,1074.0 786.5,1071.5 C787.8,1069.1 789.2,1067.5 790.5,1064.9 C791.8,1062.4 793.1,1059.5 794.4,1056.2 C795.7,1052.9 797.0,1048.3 798.3,1044.9 C799.6,1041.5 800.9,1039.3 802.2,1035.9 C803.5,1032.6 804.8,1029.8 806.1,1024.9 C807.4,1019.9 808.7,1012.2 810.0,1006.3 C811.3,1000.4 812.3,999.6 814.0,989.6 C815.6,979.7 817.9,964.8 819.8,946.6 C821.8,928.3 824.6,894.8 825.7,880.0 C826.8,865.2 825.0,878.0 826.5,858.0 C828.0,838.0 832.6,786.7 834.7,760.0 C836.8,733.3 837.4,724.6 839.2,697.9 C841.0,671.2 844.5,621.2 845.7,600.0 C846.9,578.8 845.5,586.3 846.3,570.5 C847.1,554.7 849.4,527.0 850.4,505.3 C851.4,483.6 851.2,455.9 852.0,440.0 C852.8,424.1 854.2,416.7 855.3,410.0 C856.4,403.3 857.5,404.7 858.5,400.0 C859.5,395.3 860.2,378.7 861.0,382.0 C861.8,385.3 862.5,420.5 863.5,420.0 C864.5,419.5 865.8,381.0 866.7,379.0 C867.6,377.0 868.2,407.5 869.0,408.0 C869.8,408.5 870.6,382.2 871.6,382.0 C872.6,381.8 873.7,406.0 874.8,407.0 C875.9,408.0 877.0,384.2 878.0,388.0 C879.0,391.8 880.0,429.3 881.0,430.0 C882.0,430.7 883.0,390.3 884.0,392.0 C885.0,393.7 886.0,439.0 887.0,440.0 C888.0,441.0 889.0,400.5 890.0,398.0 C891.0,395.5 891.7,420.8 893.0,425.0 C894.3,429.2 895.8,420.6 897.7,423.0 C899.6,425.4 902.9,425.7 904.2,439.4 C905.6,453.1 904.7,483.4 905.8,505.3 C906.9,527.1 909.3,548.0 910.7,570.5 C912.1,593.0 912.6,621.5 914.0,640.0 C915.4,658.5 917.2,666.5 919.1,681.6 C921.0,696.7 923.6,717.4 925.6,730.5 C927.6,743.6 929.3,738.8 930.9,760.0 C932.5,781.2 933.8,834.7 935.0,858.0 C936.2,881.3 936.6,885.7 937.8,900.0 C939.0,914.3 940.5,929.4 942.2,944.0 C943.9,958.7 946.1,973.4 948.1,988.1 C950.1,1002.8 952.0,1017.5 954.0,1032.1 C955.9,1046.8 957.6,1061.5 959.8,1076.2 C962.0,1090.9 964.5,1106.8 967.2,1120.2 C969.9,1133.7 972.8,1145.9 976.0,1156.9 C979.2,1167.9 982.4,1177.7 986.3,1186.3 C990.2,1194.9 996.1,1203.4 999.5,1208.3 C1002.9,1213.2 1003.5,1213.3 1006.8,1215.7 C1010.2,1218.1 1012.6,1218.3 1019.6,1222.7 C1026.6,1227.1 1038.6,1236.8 1048.9,1242.3 C1059.3,1247.7 1068.0,1250.4 1081.6,1255.3 C1095.2,1260.2 1114.2,1267.3 1130.5,1271.6 C1146.8,1276.0 1163.1,1278.7 1179.4,1281.4 C1195.8,1284.2 1212.1,1286.9 1228.4,1288.0 C1244.7,1289.0 1263.7,1289.0 1277.3,1288.0 C1290.9,1286.9 1299.1,1284.7 1310.0,1281.4 C1320.8,1278.2 1333.9,1271.4 1342.6,1268.4 C1351.3,1265.4 1355.6,1263.5 1362.2,1263.5 C1368.7,1263.5 1375.4,1265.9 1381.7,1268.4 C1388.0,1270.8 1394.1,1274.1 1400.0,1278.2 C1405.9,1282.3 1411.6,1289.3 1417.2,1293.1 C1422.9,1296.9 1428.4,1298.5 1434.0,1300.9 C1439.5,1303.2 1444.4,1305.2 1450.7,1307.3 C1456.9,1309.5 1464.6,1312.0 1471.6,1313.8 C1478.5,1315.6 1485.5,1317.0 1492.4,1318.3 C1499.4,1319.6 1506.4,1320.6 1513.3,1321.6 C1520.3,1322.5 1527.2,1323.4 1534.2,1324.2 C1541.2,1324.9 1548.1,1325.6 1555.1,1326.1 C1562.1,1326.6 1569.0,1327.0 1576.0,1327.4 C1582.9,1327.8 1589.9,1328.3 1596.9,1328.7 C1603.8,1329.1 1610.8,1329.5 1617.8,1330.0 C1624.7,1330.5 1631.7,1331.3 1638.6,1331.9 C1645.6,1332.6 1652.6,1333.2 1659.5,1333.9 C1666.5,1334.5 1675.3,1335.5 1680.4,1335.8 C1685.5,1336.1 1685.0,1335.4 1690.2,1335.6 C1695.4,1335.8 1704.4,1336.5 1711.5,1336.9 C1718.6,1337.4 1725.7,1337.9 1732.8,1338.3 C1739.9,1338.7 1747.0,1339.0 1754.1,1339.3 C1761.2,1339.7 1768.3,1339.8 1775.4,1340.3 C1782.5,1340.7 1789.6,1341.2 1796.7,1341.8 C1803.8,1342.4 1810.9,1343.0 1818.0,1343.8 C1825.1,1344.6 1828.7,1345.5 1839.3,1346.5 C1850.0,1347.4 1867.7,1348.6 1881.9,1349.5 C1896.1,1350.4 1910.3,1351.2 1924.5,1352.0 C1938.7,1352.8 1952.9,1353.5 1967.1,1354.1 C1981.3,1354.8 1995.5,1355.4 2009.7,1356.0 C2023.9,1356.6 2038.1,1357.2 2052.4,1357.7 C2066.6,1358.2 2080.8,1358.6 2095.0,1359.0 C2109.2,1359.4 2123.4,1359.9 2137.6,1360.3 C2151.8,1360.8 2173.1,1361.4 2180.2,1361.7" fill="none" stroke="#36d936" stroke-width="4.6" stroke-linejoin="round" stroke-linecap="round" />
<path d="M403.6,1075.8 C406.1,1077.4 412.1,1081.3 418.5,1085.6 C424.9,1089.8 434.2,1095.7 442.0,1101.2 C449.8,1106.8 457.6,1113.0 465.5,1118.8 C473.3,1124.7 481.1,1130.6 489.0,1136.5 C496.8,1142.3 504.6,1148.5 512.5,1154.1 C520.3,1159.6 528.1,1165.2 536.0,1169.7 C543.8,1174.3 551.6,1177.6 559.4,1181.5 C567.3,1185.4 575.1,1190.0 582.9,1193.2 C590.8,1196.5 598.6,1198.5 606.4,1201.1 C614.3,1203.7 622.1,1206.4 629.9,1208.9 C637.8,1211.4 645.6,1213.9 653.4,1215.9 C661.2,1218.0 669.1,1219.7 676.9,1221.4 C684.7,1223.2 692.6,1225.2 700.4,1226.5 C708.2,1227.8 717.4,1228.9 723.9,1229.3 C730.4,1229.6 734.3,1229.6 739.6,1228.5 C744.8,1227.4 750.0,1225.9 755.2,1222.6 C760.4,1219.3 765.7,1213.8 770.9,1208.9 C776.1,1204.0 781.3,1199.1 786.5,1193.2 C791.8,1187.4 797.6,1180.8 802.2,1173.7 C806.8,1166.5 810.7,1160.0 814.0,1150.2 C817.2,1140.4 819.2,1129.3 821.8,1114.9 C824.4,1100.6 827.0,1082.3 829.6,1064.0 C832.2,1045.8 835.2,1024.2 837.4,1005.3 C839.7,986.4 841.4,971.4 843.3,950.5 C845.3,929.6 845.0,916.7 849.2,880.0 C853.4,843.3 864.8,758.1 868.5,730.5 C872.3,702.9 870.6,719.0 871.8,714.2 C873.0,709.4 874.4,702.5 875.9,702.0 C877.4,701.4 879.0,706.2 880.8,710.9 C882.5,715.7 883.3,715.7 886.5,730.5 C889.7,745.4 896.5,778.8 900.0,800.0 C903.5,821.2 905.3,841.5 907.5,858.0 C909.7,874.5 911.7,884.8 913.4,899.0 C915.1,913.2 916.1,928.4 917.8,943.0 C919.5,957.7 921.7,972.4 923.7,987.1 C925.6,1001.8 927.6,1016.5 929.5,1031.1 C931.5,1045.8 933.5,1060.5 935.4,1075.2 C937.4,1089.9 939.1,1104.5 941.3,1119.2 C943.5,1133.9 945.9,1151.0 948.6,1163.3 C951.3,1175.5 954.3,1182.9 957.4,1192.6 C960.6,1202.4 964.0,1213.4 967.7,1222.0 C971.4,1230.6 975.5,1237.9 979.5,1244.0 C983.4,1250.2 984.5,1253.3 991.2,1259.0 C997.9,1264.7 1010.0,1273.0 1019.6,1278.4 C1029.2,1283.8 1035.9,1287.1 1048.9,1291.5 C1062.0,1295.8 1081.6,1301.0 1097.9,1304.5 C1114.2,1308.1 1130.5,1310.5 1146.8,1312.7 C1163.1,1314.9 1179.4,1316.2 1195.8,1317.6 C1212.1,1318.9 1231.1,1320.3 1244.7,1320.8 C1258.3,1321.4 1266.4,1321.9 1277.3,1320.8 C1288.2,1319.8 1299.1,1316.8 1310.0,1314.3 C1320.8,1311.9 1334.4,1307.8 1342.6,1306.2 C1350.7,1304.5 1352.9,1304.5 1358.9,1304.5 C1364.9,1304.5 1371.6,1304.8 1378.5,1306.2 C1385.3,1307.5 1393.5,1310.2 1400.0,1312.7 C1406.5,1315.2 1411.6,1318.8 1417.2,1320.9 C1422.9,1323.1 1428.4,1324.1 1434.0,1325.5 C1439.5,1326.9 1444.4,1328.1 1450.7,1329.3 C1456.9,1330.6 1464.6,1332.2 1471.6,1333.2 C1478.5,1334.3 1485.5,1335.1 1492.4,1335.8 C1499.4,1336.6 1506.4,1337.2 1513.3,1337.8 C1520.3,1338.4 1527.2,1339.0 1534.2,1339.4 C1541.2,1339.9 1548.1,1340.4 1555.1,1340.7 C1562.1,1341.1 1569.0,1341.4 1576.0,1341.7 C1582.9,1341.9 1589.9,1342.0 1596.9,1342.3 C1603.8,1342.6 1610.8,1342.9 1617.8,1343.3 C1624.7,1343.7 1631.7,1344.2 1638.6,1344.6 C1645.6,1345.1 1652.6,1345.5 1659.5,1345.9 C1666.5,1346.4 1671.7,1346.7 1680.4,1347.2 C1689.1,1347.7 1699.2,1348.2 1711.5,1348.8 C1723.8,1349.4 1739.9,1350.3 1754.1,1350.8 C1768.3,1351.4 1782.5,1351.5 1796.7,1352.1 C1810.9,1352.8 1825.1,1354.0 1839.3,1354.8 C1853.5,1355.6 1867.7,1356.4 1881.9,1357.0 C1896.1,1357.7 1910.3,1358.2 1924.5,1358.7 C1938.7,1359.3 1952.9,1359.7 1967.1,1360.1 C1981.3,1360.4 1995.5,1360.7 2009.7,1361.0 C2023.9,1361.3 2038.1,1361.8 2052.4,1362.0 C2066.6,1362.3 2080.8,1362.4 2095.0,1362.7 C2109.2,1363.0 2123.4,1363.3 2137.6,1363.6 C2151.8,1364.0 2173.1,1364.5 2180.2,1364.7" fill="none" stroke="#d03cd0" stroke-width="4.6" stroke-linejoin="round" stroke-linecap="round" />
<path d="M403.6,1132.5 C406.1,1133.9 412.1,1136.8 418.5,1140.4 C424.9,1144.0 434.2,1149.5 442.0,1154.1 C449.8,1158.6 457.6,1162.9 465.5,1167.8 C473.3,1172.7 481.1,1178.6 489.0,1183.4 C496.8,1188.3 504.6,1192.9 512.5,1197.1 C520.3,1201.4 528.1,1205.3 536.0,1208.9 C543.8,1212.5 551.6,1215.7 559.4,1218.7 C567.3,1221.6 575.1,1224.2 582.9,1226.5 C590.8,1228.8 598.6,1230.4 606.4,1232.4 C614.3,1234.3 622.1,1236.4 629.9,1238.3 C637.8,1240.1 645.6,1241.9 653.4,1243.4 C661.2,1244.8 669.1,1246.0 676.9,1246.9 C684.7,1247.8 692.6,1248.6 700.4,1248.8 C708.2,1249.0 717.4,1248.6 723.9,1248.1 C730.4,1247.5 735.0,1246.6 739.6,1245.3 C744.1,1244.0 747.4,1242.7 751.3,1240.2 C755.2,1237.7 759.1,1234.3 763.1,1230.4 C767.0,1226.5 770.9,1221.0 774.8,1216.7 C778.7,1212.5 782.6,1208.9 786.5,1205.0 C790.5,1201.1 795.0,1197.1 798.3,1193.2 C801.6,1189.3 803.5,1186.7 806.1,1181.5 C808.7,1176.3 811.3,1169.7 814.0,1161.9 C816.6,1154.1 819.2,1144.9 821.8,1134.5 C824.4,1124.1 827.0,1113.6 829.6,1099.3 C832.2,1084.9 835.2,1065.3 837.4,1048.4 C839.7,1031.4 841.4,1015.7 843.3,997.5 C845.3,979.2 847.6,958.3 849.2,938.7 C850.8,919.2 851.2,914.7 853.1,880.0 C855.0,845.3 858.3,763.6 860.4,730.5 C862.4,697.4 863.6,694.3 865.3,681.6 C866.9,668.8 868.4,660.9 870.1,653.8 C871.9,646.8 874.0,640.0 875.9,639.2 C877.8,638.3 879.8,643.2 881.6,648.9 C883.3,654.6 884.6,659.8 886.5,673.4 C888.4,687.0 890.8,709.4 893.0,730.5 C895.1,751.6 897.2,778.8 899.4,800.0 C901.6,821.2 904.0,841.3 906.0,858.0 C908.0,874.7 909.8,885.7 911.4,900.0 C913.0,914.3 914.1,929.4 915.8,944.0 C917.5,958.7 919.7,973.4 921.7,988.1 C923.6,1002.8 925.6,1017.5 927.5,1032.1 C929.5,1046.8 931.5,1061.5 933.4,1076.2 C935.4,1090.9 937.1,1105.5 939.3,1120.2 C941.5,1134.9 943.9,1152.0 946.6,1164.3 C949.3,1176.5 952.3,1183.9 955.4,1193.6 C958.6,1203.4 962.0,1214.4 965.7,1223.0 C969.4,1231.6 973.5,1238.9 977.5,1245.0 C981.4,1251.2 982.2,1253.9 989.2,1260.0 C996.2,1266.1 1009.6,1275.7 1019.6,1281.4 C1029.5,1287.2 1035.9,1290.1 1048.9,1294.5 C1062.0,1298.8 1081.6,1304.0 1097.9,1307.5 C1114.2,1311.1 1130.5,1313.5 1146.8,1315.7 C1163.1,1317.9 1179.4,1319.2 1195.8,1320.6 C1212.1,1321.9 1231.1,1323.3 1244.7,1323.8 C1258.3,1324.4 1266.4,1324.9 1277.3,1323.8 C1288.2,1322.8 1299.1,1319.8 1310.0,1317.3 C1320.8,1314.9 1334.4,1310.8 1342.6,1309.2 C1350.7,1307.5 1352.9,1307.5 1358.9,1307.5 C1364.9,1307.5 1371.6,1307.8 1378.5,1309.2 C1385.3,1310.5 1393.5,1313.0 1400.0,1315.7 C1406.5,1318.4 1411.6,1323.0 1417.2,1325.5 C1422.9,1328.0 1428.4,1329.1 1434.0,1330.6 C1439.5,1332.2 1444.4,1333.3 1450.7,1334.5 C1456.9,1335.7 1464.6,1336.8 1471.6,1337.8 C1478.5,1338.7 1485.5,1339.6 1492.4,1340.4 C1499.4,1341.1 1506.4,1341.7 1513.3,1342.3 C1520.3,1342.9 1527.2,1343.4 1534.2,1343.9 C1541.2,1344.3 1548.1,1344.8 1555.1,1345.1 C1562.1,1345.5 1569.0,1345.9 1576.0,1346.2 C1582.9,1346.5 1589.9,1346.6 1596.9,1346.8 C1603.8,1347.1 1610.8,1347.4 1617.8,1347.7 C1624.7,1348.1 1631.7,1348.4 1638.6,1348.8 C1645.6,1349.1 1652.6,1349.4 1659.5,1349.8 C1666.5,1350.2 1671.7,1350.7 1680.4,1351.1 C1689.1,1351.5 1699.2,1351.7 1711.5,1352.1 C1723.8,1352.6 1739.9,1353.4 1754.1,1353.9 C1768.3,1354.4 1782.5,1354.7 1796.7,1355.2 C1810.9,1355.7 1825.1,1356.3 1839.3,1356.8 C1853.5,1357.2 1867.7,1357.6 1881.9,1358.1 C1896.1,1358.5 1910.3,1359.0 1924.5,1359.4 C1938.7,1359.8 1952.9,1360.1 1967.1,1360.5 C1981.3,1360.8 1995.5,1361.1 2009.7,1361.4 C2023.9,1361.7 2038.1,1362.0 2052.4,1362.3 C2066.6,1362.6 2080.8,1362.8 2095.0,1363.1 C2109.2,1363.4 2123.4,1363.6 2137.6,1363.9 C2151.8,1364.2 2173.1,1364.6 2180.2,1364.7" fill="none" stroke="#d42a2a" stroke-width="4.6" stroke-linejoin="round" stroke-linecap="round" />
<path d="M403.6,549.2 C404.5,547.9 407.2,545.9 408.7,541.4 C410.2,536.8 411.6,530.3 412.6,521.8 C413.6,513.3 413.9,491.1 414.6,490.5 C415.2,489.8 415.9,504.8 416.5,517.9 C417.2,530.9 417.8,562.3 418.5,568.8 C419.1,575.3 419.8,552.5 420.5,557.0 C421.1,561.6 421.6,586.4 422.4,596.2 C423.3,606.0 424.6,615.1 425.5,615.8 C426.5,616.4 427.4,598.8 428.3,600.1 C429.2,601.4 430.0,613.2 431.0,623.6 C432.0,634.0 433.3,661.5 434.2,662.8 C435.0,664.1 435.1,635.3 436.1,631.4 C437.1,627.5 438.4,634.0 440.0,639.3 C441.7,644.5 443.9,660.1 445.9,662.8 C447.9,665.4 450.1,653.0 451.8,654.9 C453.4,656.9 454.7,667.3 455.7,674.5 C456.7,681.7 456.3,693.4 457.6,698.0 C459.0,702.6 461.2,700.0 463.5,701.9 C465.8,703.9 469.6,708.9 471.4,709.7 C473.1,710.6 473.1,707.8 474.0,707.2 C474.8,706.7 475.7,705.5 476.6,706.3 C477.4,707.0 478.3,711.1 479.2,711.7 C480.1,712.3 480.9,710.7 481.8,709.8 C482.7,708.9 483.5,706.3 484.4,706.3 C485.3,706.2 486.1,708.7 487.0,709.7 C487.9,710.8 489.0,709.8 489.9,712.4 C490.9,715.0 491.9,721.8 492.9,725.4 C493.9,729.0 494.8,730.7 495.8,734.0 C496.8,737.3 497.6,739.9 498.8,745.0 C499.9,750.1 501.4,757.4 502.7,764.6 C504.0,771.7 505.3,780.2 506.6,788.1 C507.9,795.9 509.2,810.2 510.5,811.5 C511.8,812.8 513.1,799.1 514.4,795.9 C515.7,792.6 517.2,790.2 518.3,792.0 C519.5,793.8 520.3,803.5 521.3,806.8 C522.3,810.0 523.2,809.2 524.2,811.5 C525.2,813.9 526.2,819.1 527.1,821.0 C528.1,823.0 529.1,821.7 530.1,823.3 C531.1,824.8 532.0,829.1 533.0,830.4 C534.0,831.7 535.0,830.9 536.0,831.1 C536.9,831.3 537.9,830.4 538.9,831.7 C539.9,833.0 540.8,838.0 541.8,839.0 C542.8,839.9 543.8,838.1 544.8,837.4 C545.7,836.8 546.7,834.6 547.7,835.0 C548.7,835.5 549.7,837.6 550.6,840.2 C551.6,842.8 552.6,848.3 553.6,850.7 C554.6,853.1 555.5,852.0 556.5,854.6 C557.5,857.2 558.5,864.8 559.4,866.4 C560.4,868.0 561.2,863.9 562.1,864.2 C562.9,864.5 563.8,866.5 564.7,868.2 C565.5,869.8 566.5,871.9 567.3,874.2 C568.1,876.4 568.7,880.2 569.4,881.6 C570.1,883.1 570.8,882.2 571.6,882.8 C572.3,883.3 573.0,884.1 573.7,884.8 C574.4,885.5 575.1,887.5 575.8,887.0 C576.5,886.6 577.2,882.3 578.0,882.1 C578.7,881.8 579.4,884.1 580.1,885.8 C580.8,887.4 581.5,890.3 582.2,891.9 C582.9,893.5 583.7,894.2 584.4,895.4 C585.1,896.7 585.8,898.2 586.5,899.2 C587.2,900.3 587.9,901.8 588.6,901.8 C589.3,901.9 590.0,900.4 590.8,899.6 C591.5,898.7 592.3,895.9 593.0,896.9 C593.8,897.8 594.5,903.4 595.2,905.3 C596.0,907.2 596.7,907.8 597.5,908.3 C598.2,908.9 599.0,908.8 599.7,908.6 C600.5,908.4 601.2,906.2 602.0,906.9 C602.7,907.6 600.8,908.0 604.2,912.7 C607.6,917.3 616.5,928.5 622.1,934.8 C627.7,941.1 631.9,944.9 637.8,950.5 C643.6,956.0 650.8,962.9 657.3,968.1 C663.9,973.3 670.4,977.6 676.9,981.8 C683.4,986.0 690.6,990.3 696.5,993.5 C702.4,996.8 706.9,999.3 712.1,1001.4 C717.4,1003.5 722.6,1006.1 727.8,1006.1 C733.0,1006.1 738.9,1003.8 743.5,1001.4 C748.0,999.0 751.3,995.8 755.2,991.6 C759.1,987.3 763.1,981.5 767.0,975.9 C770.9,970.4 774.8,965.8 778.7,958.3 C782.6,950.8 786.5,940.7 790.5,930.9 C794.4,921.1 798.9,908.1 802.2,899.6 C805.5,891.1 807.4,889.9 810.0,880.0 C812.7,870.1 815.6,853.3 818.0,840.0 C820.4,826.7 822.3,823.7 824.5,800.0 C826.7,776.3 828.8,731.2 831.0,697.9 C833.2,664.6 836.0,621.2 837.5,600.0 C839.0,578.8 839.0,586.3 839.8,570.5 C840.6,554.7 841.1,527.0 842.2,505.3 C843.3,483.6 844.4,461.9 846.3,440.0 C848.2,418.1 851.8,396.0 853.6,374.2 C855.4,352.4 855.8,334.7 856.9,309.0 C858.0,283.3 859.2,251.6 860.0,220.0 C860.8,188.4 861.2,139.9 861.7,119.4 C862.2,98.9 861.5,100.7 863.0,97.0 C864.5,93.3 869.0,88.3 870.5,97.0 C872.0,105.7 871.0,135.5 872.0,149.0 C873.0,162.5 875.1,157.8 876.3,178.0 C877.5,198.2 878.7,244.2 879.3,270.0 C879.9,295.8 879.1,321.8 880.0,333.0 C880.9,344.2 883.3,324.7 884.6,337.0 C885.9,349.3 887.1,391.3 887.9,407.0 C888.7,422.7 888.4,441.8 889.5,431.0 C890.6,420.2 892.5,356.3 894.4,342.0 C896.3,327.7 899.4,339.7 901.0,345.0 C902.6,350.3 902.6,362.3 904.2,374.0 C905.8,385.7 908.8,404.0 910.7,415.0 C912.6,426.0 914.2,424.9 915.6,440.0 C917.0,455.1 917.3,483.6 918.9,505.3 C920.5,527.0 924.0,554.7 925.4,570.5 C926.8,586.3 926.1,581.5 927.2,600.0 C928.3,618.5 930.5,659.9 932.1,681.6 C933.7,703.4 935.9,717.4 937.0,730.5 C938.1,743.6 937.3,738.8 939.0,760.0 C940.7,781.2 945.0,834.7 947.0,858.0 C949.0,881.3 949.6,885.7 951.0,900.0 C952.4,914.3 953.5,929.4 955.4,944.0 C957.4,958.7 960.1,973.4 962.8,988.1 C965.5,1002.8 968.6,1018.7 971.6,1032.1 C974.5,1045.6 977.5,1057.8 980.4,1068.8 C983.3,1079.9 986.0,1088.4 989.2,1098.2 C992.4,1108.0 994.4,1117.2 999.5,1127.6 C1004.5,1138.0 1013.0,1151.4 1019.6,1160.7 C1026.2,1170.0 1031.5,1177.0 1039.2,1183.6 C1046.8,1190.1 1055.5,1193.9 1065.3,1199.9 C1075.0,1205.9 1087.0,1213.5 1097.9,1219.4 C1108.8,1225.4 1119.6,1230.9 1130.5,1235.8 C1141.4,1240.7 1152.3,1245.0 1163.1,1248.8 C1174.0,1252.6 1184.9,1255.9 1195.8,1258.6 C1206.6,1261.3 1217.5,1263.5 1228.4,1265.1 C1239.3,1266.8 1251.2,1268.1 1261.0,1268.4 C1270.8,1268.7 1279.0,1268.4 1287.1,1266.8 C1295.3,1265.1 1300.7,1262.9 1310.0,1258.6 C1319.2,1254.2 1333.9,1244.5 1342.6,1240.7 C1351.3,1236.8 1355.6,1235.8 1362.2,1235.8 C1368.7,1235.8 1375.4,1237.4 1381.7,1240.7 C1388.0,1243.9 1394.1,1250.3 1400.0,1255.3 C1405.9,1260.4 1411.6,1266.5 1417.2,1271.1 C1422.9,1275.6 1428.4,1279.3 1434.0,1282.7 C1439.5,1286.2 1444.4,1288.9 1450.7,1291.8 C1456.9,1294.7 1464.6,1297.6 1471.6,1300.2 C1478.5,1302.8 1485.5,1305.2 1492.4,1307.3 C1499.4,1309.5 1506.4,1311.5 1513.3,1313.2 C1520.3,1314.8 1527.2,1316.0 1534.2,1317.0 C1541.2,1318.1 1548.1,1319.0 1555.1,1319.6 C1562.1,1320.3 1569.0,1320.5 1576.0,1320.9 C1582.9,1321.4 1589.9,1321.8 1596.9,1322.2 C1603.8,1322.7 1610.8,1322.8 1617.8,1323.5 C1624.7,1324.3 1631.7,1325.7 1638.6,1326.8 C1645.6,1327.8 1652.6,1329.0 1659.5,1330.0 C1666.5,1331.0 1675.3,1332.1 1680.4,1332.6 C1685.5,1333.1 1685.0,1332.5 1690.2,1333.0 C1695.4,1333.5 1704.4,1334.9 1711.5,1335.6 C1718.6,1336.4 1725.7,1337.1 1732.8,1337.6 C1739.9,1338.2 1747.0,1338.6 1754.1,1338.9 C1761.2,1339.3 1768.3,1339.4 1775.4,1339.9 C1782.5,1340.3 1789.6,1341.0 1796.7,1341.6 C1803.8,1342.2 1810.9,1342.8 1818.0,1343.6 C1825.1,1344.3 1832.2,1345.4 1839.3,1346.2 C1846.4,1347.0 1853.5,1347.6 1860.6,1348.2 C1867.7,1348.7 1871.3,1348.9 1881.9,1349.5 C1892.6,1350.1 1910.3,1351.0 1924.5,1351.7 C1938.7,1352.5 1952.9,1353.2 1967.1,1353.9 C1981.3,1354.5 1995.5,1355.1 2009.7,1355.7 C2023.9,1356.3 2038.1,1356.9 2052.4,1357.4 C2066.6,1357.9 2080.8,1358.3 2095.0,1358.7 C2109.2,1359.2 2123.4,1359.6 2137.6,1360.1 C2151.8,1360.5 2173.1,1361.2 2180.2,1361.4" fill="none" stroke="#111111" stroke-width="4.6" stroke-linejoin="round" stroke-linecap="round" />
<path d="M403.6,846.8 C404.2,848.4 406.0,853.2 407.1,856.5 C408.3,859.8 409.4,863.1 410.7,866.4 C411.9,869.6 413.3,872.7 414.6,875.9 C415.9,879.0 417.2,881.9 418.5,885.2 C419.8,888.5 421.2,893.3 422.4,895.7 C423.6,898.1 424.0,898.0 425.5,899.5 C427.1,901.1 430.2,903.5 431.8,905.1 C433.4,906.6 433.3,907.4 434.9,909.0 C436.5,910.5 439.7,912.7 441.3,914.4 C442.9,916.1 443.5,917.8 444.6,919.3 C445.7,920.7 446.8,922.2 447.9,923.3 C448.9,924.4 450.0,924.8 451.1,926.1 C452.2,927.3 453.3,929.2 454.4,930.7 C455.5,932.1 456.6,933.4 457.6,934.8 C458.7,936.2 459.8,937.8 460.9,939.1 C462.0,940.4 463.1,941.2 464.2,942.6 C465.3,943.9 466.3,945.8 467.4,947.0 C468.5,948.2 469.6,948.6 470.7,949.8 C471.8,950.9 472.9,952.4 474.0,953.9 C475.0,955.3 476.1,957.2 477.2,958.3 C478.3,959.5 479.4,959.7 480.5,960.8 C481.6,961.9 482.7,963.5 483.7,964.8 C484.8,966.2 485.9,967.8 487.0,968.9 C488.1,970.1 489.2,970.5 490.3,971.5 C491.4,972.6 492.5,974.1 493.5,975.2 C494.6,976.2 495.7,976.8 496.8,977.9 C497.9,979.0 499.0,980.2 500.2,981.6 C501.3,983.0 502.4,985.0 503.5,986.2 C504.6,987.4 505.8,987.7 506.9,988.8 C508.0,990.0 509.1,991.6 510.2,993.1 C511.3,994.6 512.5,996.4 513.6,997.8 C514.7,999.3 515.8,1000.6 516.9,1001.8 C518.1,1003.1 519.2,1004.3 520.3,1005.3 C521.4,1006.3 522.0,1006.6 523.6,1007.9 C525.3,1009.3 528.7,1011.9 530.4,1013.2 C532.0,1014.5 532.6,1015.0 533.7,1015.9 C534.8,1016.8 536.0,1017.7 537.1,1018.8 C538.2,1020.0 539.3,1021.7 540.4,1022.7 C541.5,1023.7 542.1,1023.6 543.8,1024.9 C545.5,1026.1 548.8,1028.9 550.5,1030.1 C552.2,1031.4 552.2,1031.4 553.9,1032.3 C555.5,1033.3 558.9,1034.8 560.6,1035.8 C562.2,1036.8 562.8,1037.5 563.9,1038.3 C565.0,1039.1 565.6,1039.6 567.3,1040.5 C569.0,1041.4 572.3,1042.8 574.0,1043.7 C575.7,1044.7 575.7,1045.5 577.3,1046.4 C579.0,1047.3 581.8,1048.1 584.1,1049.1 C586.3,1050.1 588.5,1051.1 590.8,1052.3 C593.0,1053.5 595.2,1055.5 597.5,1056.4 C599.7,1057.4 602.0,1057.0 604.2,1058.0 C606.4,1059.0 608.7,1061.4 610.9,1062.4 C613.1,1063.5 615.4,1063.4 617.6,1064.2 C619.9,1065.0 622.1,1066.5 624.3,1067.4 C626.6,1068.3 628.8,1068.7 631.0,1069.5 C633.3,1070.2 635.5,1071.3 637.8,1071.9 C640.0,1072.4 642.2,1072.3 644.5,1072.7 C646.7,1073.2 648.9,1073.7 651.2,1074.6 C653.4,1075.4 655.7,1077.4 657.9,1077.8 C660.1,1078.3 662.4,1077.0 664.6,1077.2 C666.8,1077.4 669.1,1078.8 671.3,1079.1 C673.6,1079.4 675.8,1079.0 678.0,1079.2 C680.3,1079.4 682.5,1080.4 684.7,1080.5 C687.0,1080.6 689.2,1079.6 691.5,1079.7 C693.7,1079.9 695.9,1081.2 698.2,1081.4 C700.4,1081.5 702.7,1081.1 704.9,1080.7 C707.1,1080.3 709.3,1079.1 711.5,1078.8 C713.7,1078.4 715.8,1078.7 718.0,1078.5 C720.2,1078.2 722.4,1078.1 724.5,1077.1 C726.7,1076.1 728.8,1073.9 730.9,1072.6 C733.1,1071.3 735.6,1070.5 737.2,1069.5 C738.8,1068.4 739.3,1067.4 740.3,1066.5 C741.4,1065.6 742.3,1065.5 743.5,1064.0 C744.6,1062.5 746.1,1059.6 747.4,1057.4 C748.7,1055.2 750.0,1052.9 751.3,1050.8 C752.6,1048.6 753.9,1046.9 755.2,1044.4 C756.5,1042.0 757.8,1039.3 759.1,1036.3 C760.4,1033.3 761.7,1029.5 763.1,1026.3 C764.4,1023.1 765.7,1020.7 767.0,1017.0 C768.3,1013.4 769.6,1008.1 770.9,1004.3 C772.2,1000.5 773.5,997.9 774.8,994.1 C776.1,990.4 777.4,986.2 778.7,981.8 C780.0,977.4 781.3,972.3 782.6,967.8 C783.9,963.2 785.2,959.3 786.5,954.4 C787.8,949.5 789.2,943.8 790.5,938.6 C791.8,933.4 793.1,929.3 794.4,923.1 C795.7,916.8 797.0,908.1 798.3,901.0 C799.6,893.8 801.0,886.8 802.2,880.0 C803.4,873.2 804.4,866.6 805.5,859.9 C806.6,853.2 807.6,846.3 808.7,839.6 C809.8,833.0 810.5,827.4 812.0,820.0 C813.5,812.6 816.3,805.0 817.9,795.0 C819.5,785.0 820.2,776.2 821.6,760.0 C823.0,743.8 824.7,717.9 826.1,697.9 C827.5,677.9 828.8,656.3 829.9,640.0 C831.0,623.7 831.9,611.6 832.6,600.0 C833.3,588.4 833.2,586.3 834.0,570.5 C834.8,554.7 836.2,527.0 837.3,505.3 C838.4,483.6 840.0,459.1 840.6,440.0 C841.2,420.9 840.1,409.6 840.6,390.5 C841.1,371.4 842.8,347.1 843.8,325.3 C844.8,303.6 845.5,283.1 846.3,260.0 C847.1,236.9 847.4,201.0 848.5,186.9 C849.6,172.8 851.3,178.9 852.9,175.2 C854.5,171.5 856.9,169.3 858.0,164.9 C859.1,160.5 859.1,158.7 859.5,148.7 C859.9,138.7 860.0,113.3 860.2,104.7 C860.5,96.1 859.4,98.3 861.0,97.0 C862.6,95.7 866.8,97.0 870.0,97.0 C873.2,97.0 878.0,86.5 880.0,97.0 C882.0,107.5 880.7,149.0 882.0,160.0 C883.3,171.0 886.3,163.5 888.0,163.0 C889.7,162.5 890.8,161.8 892.0,157.0 C893.2,152.2 893.7,138.8 895.0,134.0 C896.3,129.2 898.7,125.3 900.0,128.0 C901.3,130.7 902.2,134.7 903.0,150.0 C903.8,165.3 904.2,209.2 905.0,220.0 C905.8,230.8 907.2,235.5 908.0,215.0 C908.8,194.5 909.0,106.8 910.0,97.0 C911.0,87.2 913.0,137.6 913.8,156.0 C914.5,174.4 913.9,196.5 914.5,207.5 C915.1,218.5 916.3,214.7 917.5,222.0 C918.7,229.3 920.6,234.3 921.9,251.5 C923.2,268.7 924.1,302.1 925.4,325.3 C926.7,348.5 928.3,368.1 929.5,390.5 C930.7,412.9 932.0,440.9 932.7,460.0 C933.4,479.1 932.9,486.9 933.6,505.3 C934.3,523.7 935.9,554.7 936.8,570.5 C937.6,586.3 937.6,584.2 938.7,600.0 C939.8,615.8 942.0,643.5 943.6,665.3 C945.2,687.0 947.2,714.7 948.4,730.5 C949.6,746.3 949.6,738.8 951.0,760.0 C952.4,781.2 955.3,834.7 957.0,858.0 C958.7,881.3 959.6,885.7 961.3,900.0 C963.0,914.3 964.7,929.4 967.2,944.0 C969.6,958.7 973.3,973.4 976.0,988.1 C978.7,1002.8 980.6,1017.5 983.3,1032.1 C986.0,1046.8 989.4,1065.1 992.1,1076.2 C994.9,1087.3 996.5,1088.4 1000.0,1098.7 C1003.5,1109.0 1007.6,1125.4 1013.1,1137.9 C1018.5,1150.4 1026.6,1164.5 1032.6,1173.8 C1038.6,1183.0 1043.5,1187.4 1048.9,1193.3 C1054.4,1199.3 1057.1,1203.1 1065.3,1209.7 C1073.4,1216.2 1087.0,1226.0 1097.9,1232.5 C1108.8,1239.0 1119.6,1244.5 1130.5,1248.8 C1141.4,1253.2 1152.3,1255.9 1163.1,1258.6 C1174.0,1261.3 1184.9,1263.2 1195.8,1265.1 C1206.6,1267.0 1218.6,1269.2 1228.4,1270.0 C1238.2,1270.8 1246.3,1270.6 1254.5,1270.0 C1262.6,1269.5 1268.1,1270.3 1277.3,1266.8 C1286.6,1263.2 1299.1,1255.6 1310.0,1248.8 C1320.8,1242.0 1333.9,1230.9 1342.6,1226.0 C1351.3,1221.1 1356.2,1219.4 1362.2,1219.4 C1368.1,1219.4 1372.2,1222.2 1378.5,1226.0 C1384.8,1229.8 1393.5,1236.9 1400.0,1242.3 C1406.5,1247.6 1411.6,1253.3 1417.2,1258.1 C1422.9,1262.9 1428.4,1267.0 1434.0,1271.1 C1439.5,1275.2 1444.4,1279.1 1450.7,1282.7 C1456.9,1286.4 1464.6,1290.1 1471.6,1293.1 C1478.5,1296.1 1485.5,1298.7 1492.4,1300.9 C1499.4,1303.0 1506.4,1304.5 1513.3,1306.0 C1520.3,1307.5 1527.2,1308.8 1534.2,1309.9 C1541.2,1311.0 1548.1,1311.8 1555.1,1312.5 C1562.1,1313.3 1569.0,1313.9 1576.0,1314.5 C1582.9,1315.0 1589.9,1315.2 1596.9,1315.7 C1603.8,1316.3 1610.8,1316.8 1617.8,1317.7 C1624.7,1318.6 1631.7,1319.8 1638.6,1320.9 C1645.6,1322.0 1652.6,1323.2 1659.5,1324.2 C1666.5,1325.1 1675.3,1326.1 1680.4,1326.8 C1685.5,1327.5 1685.0,1327.8 1690.2,1328.4 C1695.4,1329.0 1704.4,1329.9 1711.5,1330.3 C1718.6,1330.8 1725.7,1330.9 1732.8,1331.0 C1739.9,1331.1 1747.0,1331.1 1754.1,1331.0 C1761.2,1330.9 1769.0,1330.5 1775.4,1330.3 C1781.8,1330.2 1786.8,1330.0 1792.5,1330.3 C1798.1,1330.7 1803.8,1331.4 1809.5,1332.3 C1815.2,1333.2 1820.9,1334.2 1826.5,1335.6 C1832.2,1337.1 1837.9,1339.4 1843.6,1340.9 C1849.3,1342.5 1854.2,1343.8 1860.6,1344.9 C1867.0,1346.0 1874.8,1346.7 1881.9,1347.5 C1889.0,1348.3 1896.1,1348.9 1903.2,1349.5 C1910.3,1350.0 1913.9,1350.2 1924.5,1350.8 C1935.2,1351.5 1952.9,1352.7 1967.1,1353.5 C1981.3,1354.2 1995.5,1354.8 2009.7,1355.4 C2023.9,1356.1 2038.1,1356.8 2052.4,1357.4 C2066.6,1358.0 2080.8,1358.6 2095.0,1359.1 C2109.2,1359.6 2123.4,1360.0 2137.6,1360.5 C2151.8,1360.9 2173.1,1361.6 2180.2,1361.8" fill="none" stroke="#1e1eb4" stroke-width="4.6" stroke-linejoin="round" stroke-linecap="round" />
<polyline points="404.0,586.9 405.5,588.4 407.0,596.3 408.5,595.1 410.0,603.5 411.5,602.4 413.0,610.3 414.5,607.6 416.0,613.8 417.5,613.2 419.0,617.3 420.5,614.9 422.0,620.7 423.5,618.4 425.0,623.7 426.5,621.1 428.0,627.4 429.5,625.3 431.0,629.5 432.5,627.4 434.0,632.3 435.5,631.4 437.0,636.4 438.5,633.1 440.0,639.5 441.5,637.3 443.0,642.6 444.5,639.2 446.0,642.2 447.5,640.6 449.0,644.6 450.5,644.5 452.0,652.1 453.5,654.4 455.0,663.4 456.5,665.4 458.0,672.8 459.5,670.6 461.0,678.6 462.5,675.6 464.0,682.5 465.5,680.2 467.0,684.3 468.5,682.9 470.0,685.5 471.5,682.5 473.0,688.5 474.5,683.9 476.0,688.5 477.5,686.1 479.0,691.0 480.5,687.4 482.0,693.5 483.5,691.9 485.0,698.9 486.5,698.8 488.0,706.3 489.5,703.8 491.0,711.3 492.5,708.7 494.0,715.9 495.5,712.8 497.0,719.7 498.5,719.5 500.0,728.4 501.5,726.6 503.0,734.8 504.5,734.3 506.0,741.9 507.5,739.3 509.0,745.9 510.5,744.2 512.0,750.3 513.5,747.4 515.0,751.7 516.5,749.3 518.0,755.6 519.5,750.8 521.0,757.0 522.5,753.9 524.0,759.0 525.5,755.5 527.0,760.4 528.5,756.9 530.0,761.7 531.5,759.1 533.0,763.5 534.5,761.4 536.0,766.5 537.5,763.8 539.0,768.1 540.5,764.4 542.0,769.2 543.5,764.7 545.0,769.6 546.5,769.1 548.0,774.5 549.5,773.7 551.0,769.6 552.5,766.0 554.0,774.5 555.5,773.9 557.0,782.5 558.5,782.4" fill="none" stroke="#3fe0e0" stroke-width="2.2" stroke-linejoin="round" stroke-linecap="round" />
<polyline points="418.0,564.0 419.3,555.4 420.6,570.6 421.9,578.0 423.2,609.4 424.5,600.5 425.8,620.8 427.1,598.5 428.4,610.1 429.7,602.4 431.0,629.4 432.3,632.4 433.6,661.8 434.9,640.9 436.2,640.9 437.5,628.5 438.8,647.7 440.1,628.7 441.4,653.9 442.7,641.1 444.0,661.5 445.3,654.8 446.6,670.2 447.9,654.3 449.2,664.9 450.5,649.8 451.8,660.7 453.1,653.5 454.4,676.0 455.7,664.5 457.0,698.6 458.3,689.4 459.6,707.5 460.9,691.0 462.2,709.0 463.5,694.9 464.8,714.2 466.1,693.5 467.4,715.9 468.7,697.7 470.0,712.3 471.3,706.0 472.6,713.9 473.9,707.2 475.2,716.0 476.5,706.8 477.8,716.9 479.1,707.5 480.4,717.3 481.7,705.5 483.0,713.7 484.3,706.8 485.6,715.8 486.9,705.4 488.2,718.8 489.5,712.2 490.8,723.1 492.1,718.4 493.4,732.5 494.7,727.6 496.0,739.0 497.3,736.1 498.6,750.3 499.9,745.4 501.2,760.5 502.5,759.9 503.8,774.6 505.1,775.9 506.4,792.3 507.7,791.2 509.0,807.2 510.3,806.0 511.6,810.7 512.9,796.8 514.2,800.2 515.5,789.9 516.8,796.9 518.1,787.9 519.4,799.2 520.7,796.0 522.0,810.1 523.3,803.1 524.6,816.2 525.9,809.3 527.2,821.2 528.5,815.9 529.8,828.3 531.1,819.7 532.4,829.7 533.7,822.1 535.0,833.5 536.3,827.8 537.6,838.6 538.9,831.1 540.2,840.7 541.5,835.3 542.8,841.6 544.1,832.7 545.4,840.3 546.7,830.9 548.0,839.9 549.3,834.9 550.6,848.6 551.9,841.8 553.2,854.4 554.5,847.6 555.8,860.2 557.1,856.6 558.4,869.3 559.7,861.2" fill="none" stroke="#111111" stroke-width="3.0" stroke-linejoin="round" stroke-linecap="round" />
<polyline points="418.5,568.8 420.5,557.0 422.4,596.2 425.5,615.8 428.3,600.1 431.0,623.6 434.2,662.8 436.1,631.4 440.0,639.3 445.9,662.8 451.8,654.9 455.7,674.5 457.6,698.0" fill="none" stroke="#111111" stroke-width="7.5" stroke-linejoin="round" stroke-linecap="round" />
<polygon points="861,99 914,99 914,217 906,217 903,150 899,135 895,163 890,166 880,163 878,120 870,112 862,112" fill="#1e1eb4"/>
<polygon points="853,440 856,398 862,386 870,392 878,386 886,394 895,398 903,420 906,452 901,470 896,462 892,492 887,470 880,462 875,492 870,466 864,482 858,468" fill="#36d936"/>
<polygon points="853,300 859,300 863,405 861,440 855,440 852,380" fill="#111"/>
<polygon points="879,330 888,330 891,420 889,440 881,440 879,400" fill="#111"/>
<polygon points="891,335 902,338 908,400 910,432 901,434 896,442 892,400" fill="#111"/>
<polygon points="862,99 875,99 875,335 871,230 867,330 862,305" fill="#111"/>
</g>
<path d="M402.2,99.5 H2180.2 V1366.5 H402.2 Z" fill="none" stroke="#2e2e2e" stroke-width="5.5" stroke-linejoin="round"/>
<line x1="376.2" y1="1366.5" x2="402.2" y2="1366.5" stroke="#2e2e2e" stroke-width="5.5" stroke-linecap="butt"/>
<line x1="388.2" y1="1225.7" x2="402.2" y2="1225.7" stroke="#2e2e2e" stroke-width="5.5" stroke-linecap="butt"/>
<line x1="376.2" y1="1084.9" x2="402.2" y2="1084.9" stroke="#2e2e2e" stroke-width="5.5" stroke-linecap="butt"/>
<line x1="388.2" y1="944.2" x2="402.2" y2="944.2" stroke="#2e2e2e" stroke-width="5.5" stroke-linecap="butt"/>
<line x1="376.2" y1="803.4" x2="402.2" y2="803.4" stroke="#2e2e2e" stroke-width="5.5" stroke-linecap="butt"/>
<line x1="388.2" y1="662.6" x2="402.2" y2="662.6" stroke="#2e2e2e" stroke-width="5.5" stroke-linecap="butt"/>
<line x1="376.2" y1="521.8" x2="402.2" y2="521.8" stroke="#2e2e2e" stroke-width="5.5" stroke-linecap="butt"/>
<line x1="388.2" y1="381.1" x2="402.2" y2="381.1" stroke="#2e2e2e" stroke-width="5.5" stroke-linecap="butt"/>
<line x1="376.2" y1="240.3" x2="402.2" y2="240.3" stroke="#2e2e2e" stroke-width="5.5" stroke-linecap="butt"/>
<line x1="388.2" y1="99.5" x2="402.2" y2="99.5" stroke="#2e2e2e" stroke-width="5.5" stroke-linecap="butt"/>
<line x1="402.2" y1="1366.5" x2="402.2" y2="1392.5" stroke="#2e2e2e" stroke-width="5.5" stroke-linecap="butt"/>
<line x1="501.0" y1="1366.5" x2="501.0" y2="1380.5" stroke="#2e2e2e" stroke-width="5.5" stroke-linecap="butt"/>
<line x1="599.8" y1="1366.5" x2="599.8" y2="1392.5" stroke="#2e2e2e" stroke-width="5.5" stroke-linecap="butt"/>
<line x1="698.5" y1="1366.5" x2="698.5" y2="1380.5" stroke="#2e2e2e" stroke-width="5.5" stroke-linecap="butt"/>
<line x1="797.3" y1="1366.5" x2="797.3" y2="1392.5" stroke="#2e2e2e" stroke-width="5.5" stroke-linecap="butt"/>
<line x1="896.1" y1="1366.5" x2="896.1" y2="1380.5" stroke="#2e2e2e" stroke-width="5.5" stroke-linecap="butt"/>
<line x1="994.9" y1="1366.5" x2="994.9" y2="1392.5" stroke="#2e2e2e" stroke-width="5.5" stroke-linecap="butt"/>
<line x1="1093.6" y1="1366.5" x2="1093.6" y2="1380.5" stroke="#2e2e2e" stroke-width="5.5" stroke-linecap="butt"/>
<line x1="1192.4" y1="1366.5" x2="1192.4" y2="1392.5" stroke="#2e2e2e" stroke-width="5.5" stroke-linecap="butt"/>
<line x1="1291.2" y1="1366.5" x2="1291.2" y2="1380.5" stroke="#2e2e2e" stroke-width="5.5" stroke-linecap="butt"/>
<line x1="1390.0" y1="1366.5" x2="1390.0" y2="1392.5" stroke="#2e2e2e" stroke-width="5.5" stroke-linecap="butt"/>
<line x1="1488.8" y1="1366.5" x2="1488.8" y2="1380.5" stroke="#2e2e2e" stroke-width="5.5" stroke-linecap="butt"/>
<line x1="1587.5" y1="1366.5" x2="1587.5" y2="1392.5" stroke="#2e2e2e" stroke-width="5.5" stroke-linecap="butt"/>
<line x1="1686.3" y1="1366.5" x2="1686.3" y2="1380.5" stroke="#2e2e2e" stroke-width="5.5" stroke-linecap="butt"/>
<line x1="1785.1" y1="1366.5" x2="1785.1" y2="1392.5" stroke="#2e2e2e" stroke-width="5.5" stroke-linecap="butt"/>
<line x1="1883.9" y1="1366.5" x2="1883.9" y2="1380.5" stroke="#2e2e2e" stroke-width="5.5" stroke-linecap="butt"/>
<line x1="1982.6" y1="1366.5" x2="1982.6" y2="1392.5" stroke="#2e2e2e" stroke-width="5.5" stroke-linecap="butt"/>
<line x1="2081.4" y1="1366.5" x2="2081.4" y2="1380.5" stroke="#2e2e2e" stroke-width="5.5" stroke-linecap="butt"/>
<line x1="2180.2" y1="1366.5" x2="2180.2" y2="1392.5" stroke="#2e2e2e" stroke-width="5.5" stroke-linecap="butt"/>
<text transform="translate(325.6,1383.5) scale(1.048,1)" font-size="62.5" font-family="Liberation Sans, Arial, sans-serif" font-weight="bold" fill="#111" >0</text>
<text transform="translate(323.8,1102.5) scale(1.051,1)" font-size="64.3" font-family="Liberation Sans, Arial, sans-serif" font-weight="bold" fill="#111" >1</text>
<text transform="translate(326.0,821.0) scale(1.023,1)" font-size="63.4" font-family="Liberation Sans, Arial, sans-serif" font-weight="bold" fill="#111" >2</text>
<text transform="translate(326.6,538.8) scale(1.017,1)" font-size="62.5" font-family="Liberation Sans, Arial, sans-serif" font-weight="bold" fill="#111" >3</text>
<text transform="translate(327.0,257.9) scale(0.915,1)" font-size="64.3" font-family="Liberation Sans, Arial, sans-serif" font-weight="bold" fill="#111" >4</text>
<text transform="translate(349.8,1453.4) scale(1.064,1)" font-size="61.4" font-family="Liberation Sans, Arial, sans-serif" font-weight="bold" fill="#111" >300</text>
<text transform="translate(547.3,1453.4) scale(1.064,1)" font-size="61.4" font-family="Liberation Sans, Arial, sans-serif" font-weight="bold" fill="#111" >350</text>
<text transform="translate(745.2,1453.4) scale(1.061,1)" font-size="61.4" font-family="Liberation Sans, Arial, sans-serif" font-weight="bold" fill="#111" >400</text>
<text transform="translate(942.8,1453.4) scale(1.061,1)" font-size="61.4" font-family="Liberation Sans, Arial, sans-serif" font-weight="bold" fill="#111" >450</text>
<text transform="translate(1139.3,1453.4) scale(1.071,1)" font-size="61.4" font-family="Liberation Sans, Arial, sans-serif" font-weight="bold" fill="#111" >500</text>
<text transform="translate(1336.9,1453.4) scale(1.071,1)" font-size="61.4" font-family="Liberation Sans, Arial, sans-serif" font-weight="bold" fill="#111" >550</text>
<text transform="translate(1534.1,1453.4) scale(1.074,1)" font-size="61.4" font-family="Liberation Sans, Arial, sans-serif" font-weight="bold" fill="#111" >600</text>
<text transform="translate(1731.7,1453.4) scale(1.074,1)" font-size="61.4" font-family="Liberation Sans, Arial, sans-serif" font-weight="bold" fill="#111" >650</text>
<text transform="translate(1928.9,1453.4) scale(1.077,1)" font-size="61.4" font-family="Liberation Sans, Arial, sans-serif" font-weight="bold" fill="#111" >700</text>
<text transform="translate(2126.5,1453.4) scale(1.077,1)" font-size="61.4" font-family="Liberation Sans, Arial, sans-serif" font-weight="bold" fill="#111" >750</text>
<text transform="translate(895.5,1577.5) scale(0.997,1)" font-size="99.3" font-family="Liberation Sans, Arial, sans-serif" font-weight="bold" fill="#111" >Wavelength (nm)</text>
<text transform="translate(208.3,982.8) rotate(-90) scale(0.817,1)" font-size="114.6" font-family="Liberation Sans, Arial, sans-serif" font-weight="bold" fill="#111">Absorbance</text>
<text transform="translate(454.8,210.5) scale(1.088,1)" font-size="72.0" font-family="Liberation Sans, Arial, sans-serif" font-weight="bold" fill="#111" >(a)</text>
<text transform="translate(583.5,520.4) scale(1.031,1)" font-size="58.6" font-family="Liberation Sans, Arial, sans-serif" font-weight="bold" fill="#111" >420</text>
<line x1="684.8" y1="515.5" x2="878.9" y2="593.1" stroke="#333" stroke-width="3" stroke-linecap="butt"/>
<text transform="translate(1330.2,1191.0) scale(1.002,1)" font-size="60.1" font-family="Liberation Sans, Arial, sans-serif" font-weight="bold" fill="#111" >545</text>
<clipPath id="ci"><rect x="1184.8" y="176.7" width="964.3999999999999" height="709.3"/></clipPath>
<g clip-path="url(#ci)">
<path d="M1184.8,293.0 C1185.7,293.5 1188.1,294.8 1190.0,296.0 C1191.9,297.2 1192.5,296.6 1196.3,300.0 C1200.1,303.4 1207.2,310.9 1212.6,316.3 C1218.1,321.8 1223.5,327.5 1228.9,332.6 C1234.4,337.7 1239.8,342.8 1245.3,346.9 C1250.7,351.0 1256.1,354.4 1261.6,357.1 C1267.0,359.8 1272.4,361.9 1277.9,363.2 C1283.3,364.6 1288.8,365.0 1294.2,365.3 C1299.6,365.5 1305.7,364.8 1310.5,364.4 C1315.3,364.1 1318.7,362.7 1322.7,363.2 C1326.8,363.7 1330.2,365.3 1335.0,367.3 C1339.7,369.3 1345.9,371.7 1351.3,375.4 C1356.7,379.2 1362.2,383.9 1367.6,389.7 C1373.0,395.5 1378.5,402.6 1383.9,410.1 C1389.4,417.6 1394.8,425.7 1400.2,434.6 C1405.7,443.4 1411.1,455.0 1416.5,463.1 C1422.0,471.3 1427.4,477.4 1432.9,483.5 C1438.3,489.6 1443.7,495.1 1449.2,499.8 C1454.6,504.6 1459.4,507.3 1465.5,512.1 C1471.6,516.8 1479.1,522.9 1485.9,528.4 C1492.7,533.8 1499.5,539.6 1506.3,544.7 C1513.1,549.8 1519.9,554.2 1526.7,559.0 C1533.5,563.7 1540.3,568.8 1547.0,573.2 C1553.8,577.7 1560.6,581.4 1567.4,585.5 C1574.2,589.6 1581.0,593.6 1587.8,597.7 C1594.6,601.8 1601.4,605.9 1608.2,610.0 C1615.0,614.0 1621.8,618.1 1628.6,622.2 C1635.4,626.3 1642.2,630.7 1649.0,634.4 C1655.8,638.2 1662.3,641.1 1669.4,644.6 C1676.5,648.2 1681.0,650.0 1691.6,655.7 C1702.2,661.3 1719.3,671.6 1733.2,678.6 C1747.1,685.5 1760.9,690.7 1774.8,697.3 C1788.7,703.9 1802.5,711.8 1816.4,718.1 C1830.3,724.3 1844.1,729.2 1858.0,734.7 C1871.9,740.3 1885.7,745.8 1899.6,751.3 C1913.4,756.9 1927.3,762.4 1941.2,768.0 C1955.0,773.5 1968.9,779.4 1982.8,784.6 C1996.6,789.8 2010.5,794.7 2024.4,799.2 C2038.2,803.7 2052.1,807.9 2066.0,811.7 C2079.8,815.5 2093.7,818.6 2107.6,822.1 C2121.4,825.5 2142.2,830.7 2149.2,832.5" fill="none" stroke="#52dccc" stroke-width="3.2" stroke-linejoin="round" stroke-linecap="round" />
<path d="M1184.9,750.7 C1188.2,751.7 1197.8,754.7 1204.5,756.8 C1211.1,758.8 1218.1,761.9 1224.9,762.9 C1231.7,763.9 1238.5,763.9 1245.3,762.9 C1252.1,761.9 1259.5,759.8 1265.6,756.8 C1271.8,753.7 1276.5,749.6 1282.0,744.5 C1287.4,739.4 1292.8,732.0 1298.3,726.2 C1303.7,720.4 1309.1,713.9 1314.6,709.9 C1320.0,705.8 1325.5,703.5 1330.9,701.7 C1336.3,699.9 1342.5,698.5 1347.2,698.9 C1352.0,699.2 1355.4,700.9 1359.4,703.8 C1363.5,706.6 1366.9,710.5 1371.7,716.0 C1376.4,721.4 1382.6,729.6 1388.0,736.4 C1393.4,743.2 1398.9,750.7 1404.3,756.8 C1409.7,762.9 1415.2,768.3 1420.6,773.1 C1426.1,777.8 1430.8,781.6 1436.9,785.3 C1443.1,789.1 1450.5,792.5 1457.3,795.5 C1464.1,798.6 1470.9,801.3 1477.7,803.7 C1484.5,806.0 1491.3,808.0 1498.1,809.8 C1504.9,811.6 1511.7,813.2 1518.5,814.7 C1525.3,816.2 1532.1,817.5 1538.9,818.8 C1545.7,820.0 1552.5,821.1 1559.3,822.0 C1566.1,822.9 1572.9,823.2 1579.7,824.1 C1586.5,824.9 1593.3,825.9 1600.1,826.9 C1606.9,827.9 1613.7,829.1 1620.5,830.2 C1627.3,831.3 1634.1,832.2 1640.8,833.4 C1647.6,834.7 1652.8,836.3 1661.2,837.5 C1669.7,838.7 1679.6,839.3 1691.6,840.8 C1703.6,842.2 1719.3,844.6 1733.2,846.2 C1747.1,847.8 1760.9,848.8 1774.8,850.3 C1788.7,851.9 1802.5,853.8 1816.4,855.3 C1830.3,856.9 1844.1,858.1 1858.0,859.5 C1871.9,860.9 1885.7,862.4 1899.6,863.7 C1913.4,864.9 1927.3,865.9 1941.2,867.0 C1955.0,868.0 1968.9,868.9 1982.8,869.9 C1996.6,870.9 2010.5,871.9 2024.4,872.8 C2038.2,873.7 2052.1,874.5 2066.0,875.3 C2079.8,876.1 2093.7,877.0 2107.6,877.8 C2121.4,878.6 2142.2,879.9 2149.2,880.3" fill="none" stroke="#c05858" stroke-width="3.2" stroke-linejoin="round" stroke-linecap="round" />
<path d="M1184.9,736.4 C1188.2,737.4 1197.8,740.8 1204.5,742.5 C1211.1,744.2 1218.1,745.9 1224.9,746.6 C1231.7,747.3 1238.5,747.3 1245.3,746.6 C1252.1,745.9 1259.5,744.9 1265.6,742.5 C1271.8,740.1 1276.5,736.7 1282.0,732.3 C1287.4,727.9 1292.8,720.7 1298.3,716.0 C1303.7,711.2 1309.1,706.8 1314.6,703.8 C1320.0,700.7 1325.5,698.7 1330.9,697.6 C1336.3,696.6 1342.5,697.0 1347.2,697.6 C1352.0,698.3 1355.4,699.3 1359.4,701.7 C1363.5,704.1 1366.9,707.5 1371.7,711.9 C1376.4,716.3 1382.6,723.1 1388.0,728.2 C1393.4,733.3 1398.9,737.7 1404.3,742.5 C1409.7,747.3 1415.2,752.4 1420.6,756.8 C1426.1,761.2 1430.8,764.9 1436.9,769.0 C1443.1,773.1 1450.5,777.8 1457.3,781.2 C1464.1,784.6 1470.9,787.0 1477.7,789.4 C1484.5,791.8 1491.3,793.6 1498.1,795.5 C1504.9,797.4 1511.7,799.3 1518.5,800.8 C1525.3,802.4 1532.1,803.7 1538.9,804.9 C1545.7,806.0 1552.5,806.9 1559.3,807.7 C1566.1,808.6 1572.9,808.9 1579.7,809.8 C1586.5,810.7 1593.3,811.8 1600.1,813.1 C1606.9,814.3 1613.7,815.8 1620.5,817.1 C1627.3,818.5 1634.1,819.8 1640.8,821.2 C1647.6,822.6 1652.8,823.8 1661.2,825.3 C1669.7,826.8 1679.6,828.5 1691.6,830.4 C1703.6,832.3 1719.3,834.9 1733.2,836.6 C1747.1,838.4 1760.9,838.7 1774.8,840.8 C1788.7,842.9 1802.5,846.5 1816.4,849.1 C1830.3,851.7 1844.1,854.1 1858.0,856.2 C1871.9,858.3 1885.7,860.0 1899.6,861.6 C1913.4,863.2 1927.3,864.6 1941.2,865.7 C1955.0,866.9 1968.9,867.6 1982.8,868.7 C1996.6,869.7 2010.5,871.1 2024.4,872.0 C2038.2,872.9 2052.1,873.2 2066.0,874.1 C2079.8,874.9 2093.7,875.9 2107.6,877.0 C2121.4,878.0 2142.2,879.7 2149.2,880.3" fill="none" stroke="#d060d0" stroke-width="3.2" stroke-linejoin="round" stroke-linecap="round" />
<path d="M1184.9,693.6 C1188.2,694.6 1197.8,697.6 1204.5,699.7 C1211.1,701.7 1218.1,704.4 1224.9,705.8 C1231.7,707.2 1238.5,708.5 1245.3,707.8 C1252.1,707.2 1259.5,706.5 1265.6,701.7 C1271.8,697.0 1276.5,689.8 1282.0,679.3 C1287.4,668.7 1292.8,652.1 1298.3,638.5 C1303.7,624.9 1309.1,608.6 1314.6,597.7 C1320.0,586.8 1325.5,578.7 1330.9,573.2 C1336.3,567.8 1342.5,565.4 1347.2,565.1 C1352.0,564.7 1355.4,566.4 1359.4,571.2 C1363.5,576.0 1366.9,583.1 1371.7,593.6 C1376.4,604.2 1382.6,620.8 1388.0,634.4 C1393.4,648.0 1398.9,662.3 1404.3,675.2 C1409.7,688.1 1415.2,701.0 1420.6,711.9 C1426.1,722.8 1430.8,732.3 1436.9,740.5 C1443.1,748.6 1450.5,755.4 1457.3,760.8 C1464.1,766.3 1470.9,769.7 1477.7,773.1 C1484.5,776.5 1491.3,778.9 1498.1,781.2 C1504.9,783.6 1511.7,785.7 1518.5,787.4 C1525.3,789.1 1532.1,790.4 1538.9,791.4 C1545.7,792.5 1552.5,793.3 1559.3,793.5 C1566.1,793.7 1572.9,792.7 1579.7,792.7 C1586.5,792.7 1593.3,792.3 1600.1,793.5 C1606.9,794.6 1613.7,797.2 1620.5,799.6 C1627.3,802.0 1634.1,805.0 1640.8,807.7 C1647.6,810.5 1656.2,814.2 1661.2,815.9 C1666.2,817.6 1665.7,816.5 1670.8,817.9 C1675.9,819.3 1684.7,822.4 1691.6,824.1 C1698.5,825.9 1705.5,827.1 1712.4,828.3 C1719.3,829.5 1726.3,830.3 1733.2,831.2 C1740.1,832.1 1747.1,832.8 1754.0,833.7 C1760.9,834.6 1767.9,835.1 1774.8,836.6 C1781.7,838.1 1788.7,840.8 1795.6,842.9 C1802.5,844.9 1806.0,846.9 1816.4,849.1 C1826.8,851.3 1844.1,854.3 1858.0,856.2 C1871.9,858.0 1885.7,858.9 1899.6,860.3 C1913.4,861.7 1927.3,863.2 1941.2,864.5 C1955.0,865.7 1968.9,866.7 1982.8,867.8 C1996.6,868.9 2010.5,870.1 2024.4,871.1 C2038.2,872.2 2052.1,873.2 2066.0,874.1 C2079.8,874.9 2093.7,875.4 2107.6,876.1 C2121.4,876.8 2142.2,877.9 2149.2,878.2" fill="none" stroke="#8a8a8a" stroke-width="3.2" stroke-linejoin="round" stroke-linecap="round" />
<path d="M1184.9,636.5 C1188.2,637.8 1197.8,642.4 1204.5,644.6 C1211.1,646.9 1218.1,648.9 1224.9,649.9 C1231.7,650.9 1238.5,651.3 1245.3,650.7 C1252.1,650.2 1259.5,650.1 1265.6,646.7 C1271.8,643.3 1276.5,637.1 1282.0,630.3 C1287.4,623.5 1292.8,614.0 1298.3,605.9 C1303.7,597.7 1309.1,587.5 1314.6,581.4 C1320.0,575.3 1325.5,571.9 1330.9,569.2 C1336.3,566.4 1342.5,565.0 1347.2,565.1 C1352.0,565.2 1355.4,565.9 1359.4,570.0 C1363.5,574.1 1366.9,580.9 1371.7,589.6 C1376.4,598.3 1382.6,611.3 1388.0,622.2 C1393.4,633.1 1398.9,645.3 1404.3,654.8 C1409.7,664.3 1415.2,671.8 1420.6,679.3 C1426.1,686.8 1430.8,692.9 1436.9,699.7 C1443.1,706.5 1450.5,714.3 1457.3,720.1 C1464.1,725.8 1470.9,730.3 1477.7,734.3 C1484.5,738.4 1491.3,741.5 1498.1,744.5 C1504.9,747.6 1511.7,750.3 1518.5,752.7 C1525.3,755.1 1532.1,757.1 1538.9,758.8 C1545.7,760.5 1552.5,761.5 1559.3,762.9 C1566.1,764.2 1572.9,765.6 1579.7,767.0 C1586.5,768.3 1593.3,769.3 1600.1,771.0 C1606.9,772.7 1613.7,775.1 1620.5,777.2 C1627.3,779.2 1634.1,781.2 1640.8,783.3 C1647.6,785.3 1656.2,788.5 1661.2,789.4 C1666.2,790.3 1665.7,788.2 1670.8,788.8 C1675.9,789.4 1684.7,791.6 1691.6,792.9 C1698.5,794.3 1705.5,795.9 1712.4,797.1 C1719.3,798.4 1726.3,799.4 1733.2,800.4 C1740.1,801.5 1747.1,802.0 1754.0,803.3 C1760.9,804.7 1767.9,806.5 1774.8,808.3 C1781.7,810.2 1788.7,812.1 1795.6,814.6 C1802.5,817.0 1806.0,819.9 1816.4,822.9 C1826.8,825.9 1844.1,829.6 1858.0,832.5 C1871.9,835.4 1885.7,837.9 1899.6,840.4 C1913.4,842.8 1927.3,844.9 1941.2,847.0 C1955.0,849.1 1968.9,851.0 1982.8,852.8 C1996.6,854.7 2010.5,856.7 2024.4,858.3 C2038.2,859.8 2052.1,861.0 2066.0,862.4 C2079.8,863.8 2093.7,865.2 2107.6,866.6 C2121.4,868.0 2142.2,870.0 2149.2,870.7" fill="none" stroke="#50d050" stroke-width="3.2" stroke-linejoin="round" stroke-linecap="round" />
<path d="M1184.9,546.7 C1188.2,548.8 1197.8,554.6 1204.5,559.0 C1211.1,563.4 1218.1,569.2 1224.9,573.2 C1231.7,577.3 1238.5,582.4 1245.3,583.4 C1252.1,584.5 1259.5,583.1 1265.6,579.4 C1271.8,575.6 1276.5,568.8 1282.0,561.0 C1287.4,553.2 1292.8,542.0 1298.3,532.5 C1303.7,522.9 1309.1,511.7 1314.6,503.9 C1320.0,496.1 1325.5,489.6 1330.9,485.6 C1336.3,481.5 1342.5,479.4 1347.2,479.4 C1352.0,479.4 1355.4,480.8 1359.4,485.6 C1363.5,490.3 1366.9,498.1 1371.7,508.0 C1376.4,517.8 1382.6,531.8 1388.0,544.7 C1393.4,557.6 1398.9,572.6 1404.3,585.5 C1409.7,598.4 1415.2,611.3 1420.6,622.2 C1426.1,633.1 1430.8,641.6 1436.9,650.7 C1443.1,659.9 1450.5,669.1 1457.3,677.2 C1464.1,685.4 1470.9,692.9 1477.7,699.7 C1484.5,706.5 1491.3,712.9 1498.1,718.0 C1504.9,723.1 1511.7,726.9 1518.5,730.3 C1525.3,733.7 1532.1,736.4 1538.9,738.4 C1545.7,740.5 1552.5,741.1 1559.3,742.5 C1566.1,743.9 1572.9,745.2 1579.7,746.6 C1586.5,747.9 1593.3,748.3 1600.1,750.7 C1606.9,753.0 1613.7,757.4 1620.5,760.8 C1627.3,764.2 1634.1,768.0 1640.8,771.0 C1647.6,774.1 1656.2,777.6 1661.2,779.2 C1666.2,780.8 1665.7,778.9 1670.8,780.5 C1675.9,782.1 1684.7,786.4 1691.6,788.8 C1698.5,791.2 1705.5,793.3 1712.4,795.0 C1719.3,796.8 1726.3,798.0 1733.2,799.2 C1740.1,800.4 1747.1,800.7 1754.0,802.1 C1760.9,803.5 1767.9,805.6 1774.8,807.5 C1781.7,809.4 1788.7,811.3 1795.6,813.7 C1802.5,816.2 1809.5,819.6 1816.4,822.1 C1823.3,824.5 1830.3,826.6 1837.2,828.3 C1844.1,830.0 1847.6,830.6 1858.0,832.5 C1868.4,834.3 1885.7,837.2 1899.6,839.5 C1913.4,841.8 1927.3,844.1 1941.2,846.2 C1955.0,848.3 1968.9,850.1 1982.8,852.0 C1996.6,853.9 2010.5,855.8 2024.4,857.4 C2038.2,859.0 2052.1,860.2 2066.0,861.6 C2079.8,863.0 2093.7,864.4 2107.6,865.7 C2121.4,867.1 2142.2,869.2 2149.2,869.9" fill="none" stroke="#3a3a3a" stroke-width="3.2" stroke-linejoin="round" stroke-linecap="round" />
<path d="M1184.9,579.4 C1188.2,580.0 1197.8,582.1 1204.5,583.4 C1211.1,584.8 1218.1,587.2 1224.9,587.5 C1231.7,587.9 1238.5,587.5 1245.3,585.5 C1252.1,583.4 1259.5,580.7 1265.6,575.3 C1271.8,569.8 1276.5,562.7 1282.0,552.9 C1287.4,543.0 1292.8,529.7 1298.3,516.2 C1303.7,502.6 1309.1,483.5 1314.6,471.3 C1320.0,459.1 1325.5,449.7 1330.9,442.7 C1336.3,435.8 1342.5,431.0 1347.2,429.7 C1352.0,428.3 1355.4,429.7 1359.4,434.6 C1363.5,439.5 1366.9,448.2 1371.7,459.1 C1376.4,469.9 1382.6,485.6 1388.0,499.8 C1393.4,514.1 1398.9,530.4 1404.3,544.7 C1409.7,559.0 1415.2,572.6 1420.6,585.5 C1426.1,598.4 1430.8,610.6 1436.9,622.2 C1443.1,633.7 1450.5,645.3 1457.3,654.8 C1464.1,664.3 1470.9,672.5 1477.7,679.3 C1484.5,686.1 1491.3,690.8 1498.1,695.6 C1504.9,700.4 1511.7,704.4 1518.5,707.8 C1525.3,711.2 1532.1,713.6 1538.9,716.0 C1545.7,718.4 1552.5,720.4 1559.3,722.1 C1566.1,723.8 1572.9,724.5 1579.7,726.2 C1586.5,727.9 1593.3,729.6 1600.1,732.3 C1606.9,735.0 1613.7,739.1 1620.5,742.5 C1627.3,745.9 1634.1,749.6 1640.8,752.7 C1647.6,755.8 1656.2,758.6 1661.2,760.8 C1666.2,763.1 1665.7,764.0 1670.8,765.9 C1675.9,767.8 1684.7,770.8 1691.6,772.1 C1698.5,773.5 1705.5,773.9 1712.4,774.2 C1719.3,774.6 1726.3,774.6 1733.2,774.2 C1740.1,773.9 1747.8,772.5 1754.0,772.1 C1760.2,771.8 1765.1,771.1 1770.6,772.1 C1776.2,773.2 1781.7,775.6 1787.3,778.4 C1792.8,781.2 1798.4,784.3 1803.9,788.8 C1809.5,793.3 1815.0,800.6 1820.5,805.4 C1826.1,810.3 1830.9,814.4 1837.2,817.9 C1843.4,821.4 1851.1,823.8 1858.0,826.2 C1864.9,828.6 1871.9,830.7 1878.8,832.5 C1885.7,834.2 1889.2,834.5 1899.6,836.6 C1910.0,838.7 1927.3,842.5 1941.2,844.9 C1955.0,847.4 1968.9,849.1 1982.8,851.2 C1996.6,853.3 2010.5,855.5 2024.4,857.4 C2038.2,859.4 2052.1,861.2 2066.0,862.8 C2079.8,864.4 2093.7,865.6 2107.6,867.0 C2121.4,868.4 2142.2,870.5 2149.2,871.1" fill="none" stroke="#4646c8" stroke-width="3.2" stroke-linejoin="round" stroke-linecap="round" />
</g>
<rect x="1184.8" y="176.7" width="964.3999999999999" height="709.3" fill="none" stroke="#3a3a3a" stroke-width="2.6"/>
<line x1="1170.8" y1="886.0" x2="1184.8" y2="886.0" stroke="#3a3a3a" stroke-width="2.6" stroke-linecap="butt"/>
<line x1="1176.8" y1="797.3" x2="1184.8" y2="797.3" stroke="#3a3a3a" stroke-width="2.6" stroke-linecap="butt"/>
<line x1="1170.8" y1="708.7" x2="1184.8" y2="708.7" stroke="#3a3a3a" stroke-width="2.6" stroke-linecap="butt"/>
<line x1="1176.8" y1="620.0" x2="1184.8" y2="620.0" stroke="#3a3a3a" stroke-width="2.6" stroke-linecap="butt"/>
<line x1="1170.8" y1="531.4" x2="1184.8" y2="531.4" stroke="#3a3a3a" stroke-width="2.6" stroke-linecap="butt"/>
<line x1="1176.8" y1="442.7" x2="1184.8" y2="442.7" stroke="#3a3a3a" stroke-width="2.6" stroke-linecap="butt"/>
<line x1="1170.8" y1="354.0" x2="1184.8" y2="354.0" stroke="#3a3a3a" stroke-width="2.6" stroke-linecap="butt"/>
<line x1="1176.8" y1="265.4" x2="1184.8" y2="265.4" stroke="#3a3a3a" stroke-width="2.6" stroke-linecap="butt"/>
<line x1="1170.8" y1="176.7" x2="1184.8" y2="176.7" stroke="#3a3a3a" stroke-width="2.6" stroke-linecap="butt"/>
<line x1="1184.8" y1="886.0" x2="1184.8" y2="898.0" stroke="#3a3a3a" stroke-width="2.6" stroke-linecap="butt"/>
<line x1="1377.7" y1="886.0" x2="1377.7" y2="892.0" stroke="#3a3a3a" stroke-width="2.6" stroke-linecap="butt"/>
<line x1="1570.6" y1="886.0" x2="1570.6" y2="898.0" stroke="#3a3a3a" stroke-width="2.6" stroke-linecap="butt"/>
<line x1="1763.4" y1="886.0" x2="1763.4" y2="892.0" stroke="#3a3a3a" stroke-width="2.6" stroke-linecap="butt"/>
<line x1="1956.3" y1="886.0" x2="1956.3" y2="898.0" stroke="#3a3a3a" stroke-width="2.6" stroke-linecap="butt"/>
<line x1="2149.2" y1="886.0" x2="2149.2" y2="892.0" stroke="#3a3a3a" stroke-width="2.6" stroke-linecap="butt"/>
<text transform="translate(1110.5,896.1) scale(1.099,1)" font-size="32.8" font-family="Liberation Sans, Arial, sans-serif" font-weight="bold" fill="#2a2a2a" >0.0</text>
<text transform="translate(1110.5,718.8) scale(1.099,1)" font-size="32.8" font-family="Liberation Sans, Arial, sans-serif" font-weight="bold" fill="#2a2a2a" >0.2</text>
<text transform="translate(1110.6,541.5) scale(1.070,1)" font-size="32.8" font-family="Liberation Sans, Arial, sans-serif" font-weight="bold" fill="#2a2a2a" >0.4</text>
<text transform="translate(1110.5,364.1) scale(1.099,1)" font-size="32.8" font-family="Liberation Sans, Arial, sans-serif" font-weight="bold" fill="#2a2a2a" >0.6</text>
<text transform="translate(1110.5,186.8) scale(1.091,1)" font-size="32.8" font-family="Liberation Sans, Arial, sans-serif" font-weight="bold" fill="#2a2a2a" >0.8</text>
<text transform="translate(1153.9,938.3) scale(0.977,1)" font-size="36.2" font-family="Liberation Sans, Arial, sans-serif" font-weight="bold" fill="#2a2a2a" >500</text>
<text transform="translate(1539.3,938.3) scale(0.980,1)" font-size="36.2" font-family="Liberation Sans, Arial, sans-serif" font-weight="bold" fill="#2a2a2a" >600</text>
<text transform="translate(1926.6,938.3) scale(0.983,1)" font-size="36.2" font-family="Liberation Sans, Arial, sans-serif" font-weight="bold" fill="#2a2a2a" >700</text>
<text transform="translate(1454.3,1004.4) scale(1.028,1)" font-size="51.6" font-family="Liberation Sans, Arial, sans-serif" font-weight="bold" fill="#1a1a1a" >Wavelength (nm)</text>
<text transform="translate(1047.4,674.7) rotate(-90) scale(0.814,1)" font-size="64.6" font-family="Liberation Sans, Arial, sans-serif" font-weight="bold" fill="#1a1a1a">Absorbance</text>
<line x1="1807.6" y1="236.7" x2="1895.1" y2="236.7" stroke="#8a8a8a" stroke-width="3.6" stroke-linecap="butt"/>
<text transform="translate(1906.0,248.5) scale(1.117,1)" font-size="32.9" font-family="Liberation Sans, Arial, sans-serif" font-weight="bold" fill="#222" >dMeDEOS</text>
<line x1="1807.6" y1="284.3" x2="1895.1" y2="284.3" stroke="#c05858" stroke-width="3.6" stroke-linecap="butt"/>
<text transform="translate(1905.1,295.4) scale(1.071,1)" font-size="34.1" font-family="Liberation Sans, Arial, sans-serif" font-weight="bold" fill="#222" >EtTEOS</text>
<line x1="1807.6" y1="330.7" x2="1895.1" y2="330.7" stroke="#d060d0" stroke-width="3.6" stroke-linecap="butt"/>
<text transform="translate(1907.3,342.4) scale(1.006,1)" font-size="36.1" font-family="Liberation Sans, Arial, sans-serif" font-weight="bold" fill="#222" >VyTEOS</text>
<line x1="1807.6" y1="377.1" x2="1895.1" y2="377.1" stroke="#4646c8" stroke-width="3.6" stroke-linecap="butt"/>
<text transform="translate(1906.6,389.4) scale(0.988,1)" font-size="36.2" font-family="Liberation Sans, Arial, sans-serif" font-weight="bold" fill="#222" >AlyTMOS</text>
<line x1="1807.6" y1="424.6" x2="1895.1" y2="424.6" stroke="#52dccc" stroke-width="3.6" stroke-linecap="butt"/>
<text transform="translate(1906.6,436.4) scale(1.015,1)" font-size="35.4" font-family="Liberation Sans, Arial, sans-serif" font-weight="bold" fill="#222" >AmTEOS</text>
<line x1="1807.6" y1="471.6" x2="1895.1" y2="471.6" stroke="#50d050" stroke-width="3.6" stroke-linecap="butt"/>
<text transform="translate(1905.1,483.4) scale(1.004,1)" font-size="36.2" font-family="Liberation Sans, Arial, sans-serif" font-weight="bold" fill="#222" >DoTEOS</text>
<line x1="1807.6" y1="517.7" x2="1895.1" y2="517.7" stroke="#3a3a3a" stroke-width="3.6" stroke-linecap="butt"/>
<text transform="translate(1906.4,527.4) scale(1.029,1)" font-size="34.1" font-family="Liberation Sans, Arial, sans-serif" font-weight="bold" fill="#222" >ΦTEOS</text>
<text transform="translate(1320.1,357.5) scale(0.950,1)" font-size="32.8" font-family="Liberation Sans, Arial, sans-serif" font-weight="bold" fill="#222" >538</text>
<text transform="translate(1326.2,421.1) scale(0.986,1)" font-size="31.0" font-family="Liberation Sans, Arial, sans-serif" font-weight="bold" fill="#222" >543</text>
<text transform="translate(1321.8,694.5) scale(1.023,1)" font-size="30.4" font-family="Liberation Sans, Arial, sans-serif" font-weight="bold" fill="#222" >542</text>
<text transform="translate(1752.1,769.6) scale(0.906,1)" font-size="35.1" font-family="Liberation Sans, Arial, sans-serif" font-weight="bold" fill="#222" >652</text>
</g>
</svg></body></html>
